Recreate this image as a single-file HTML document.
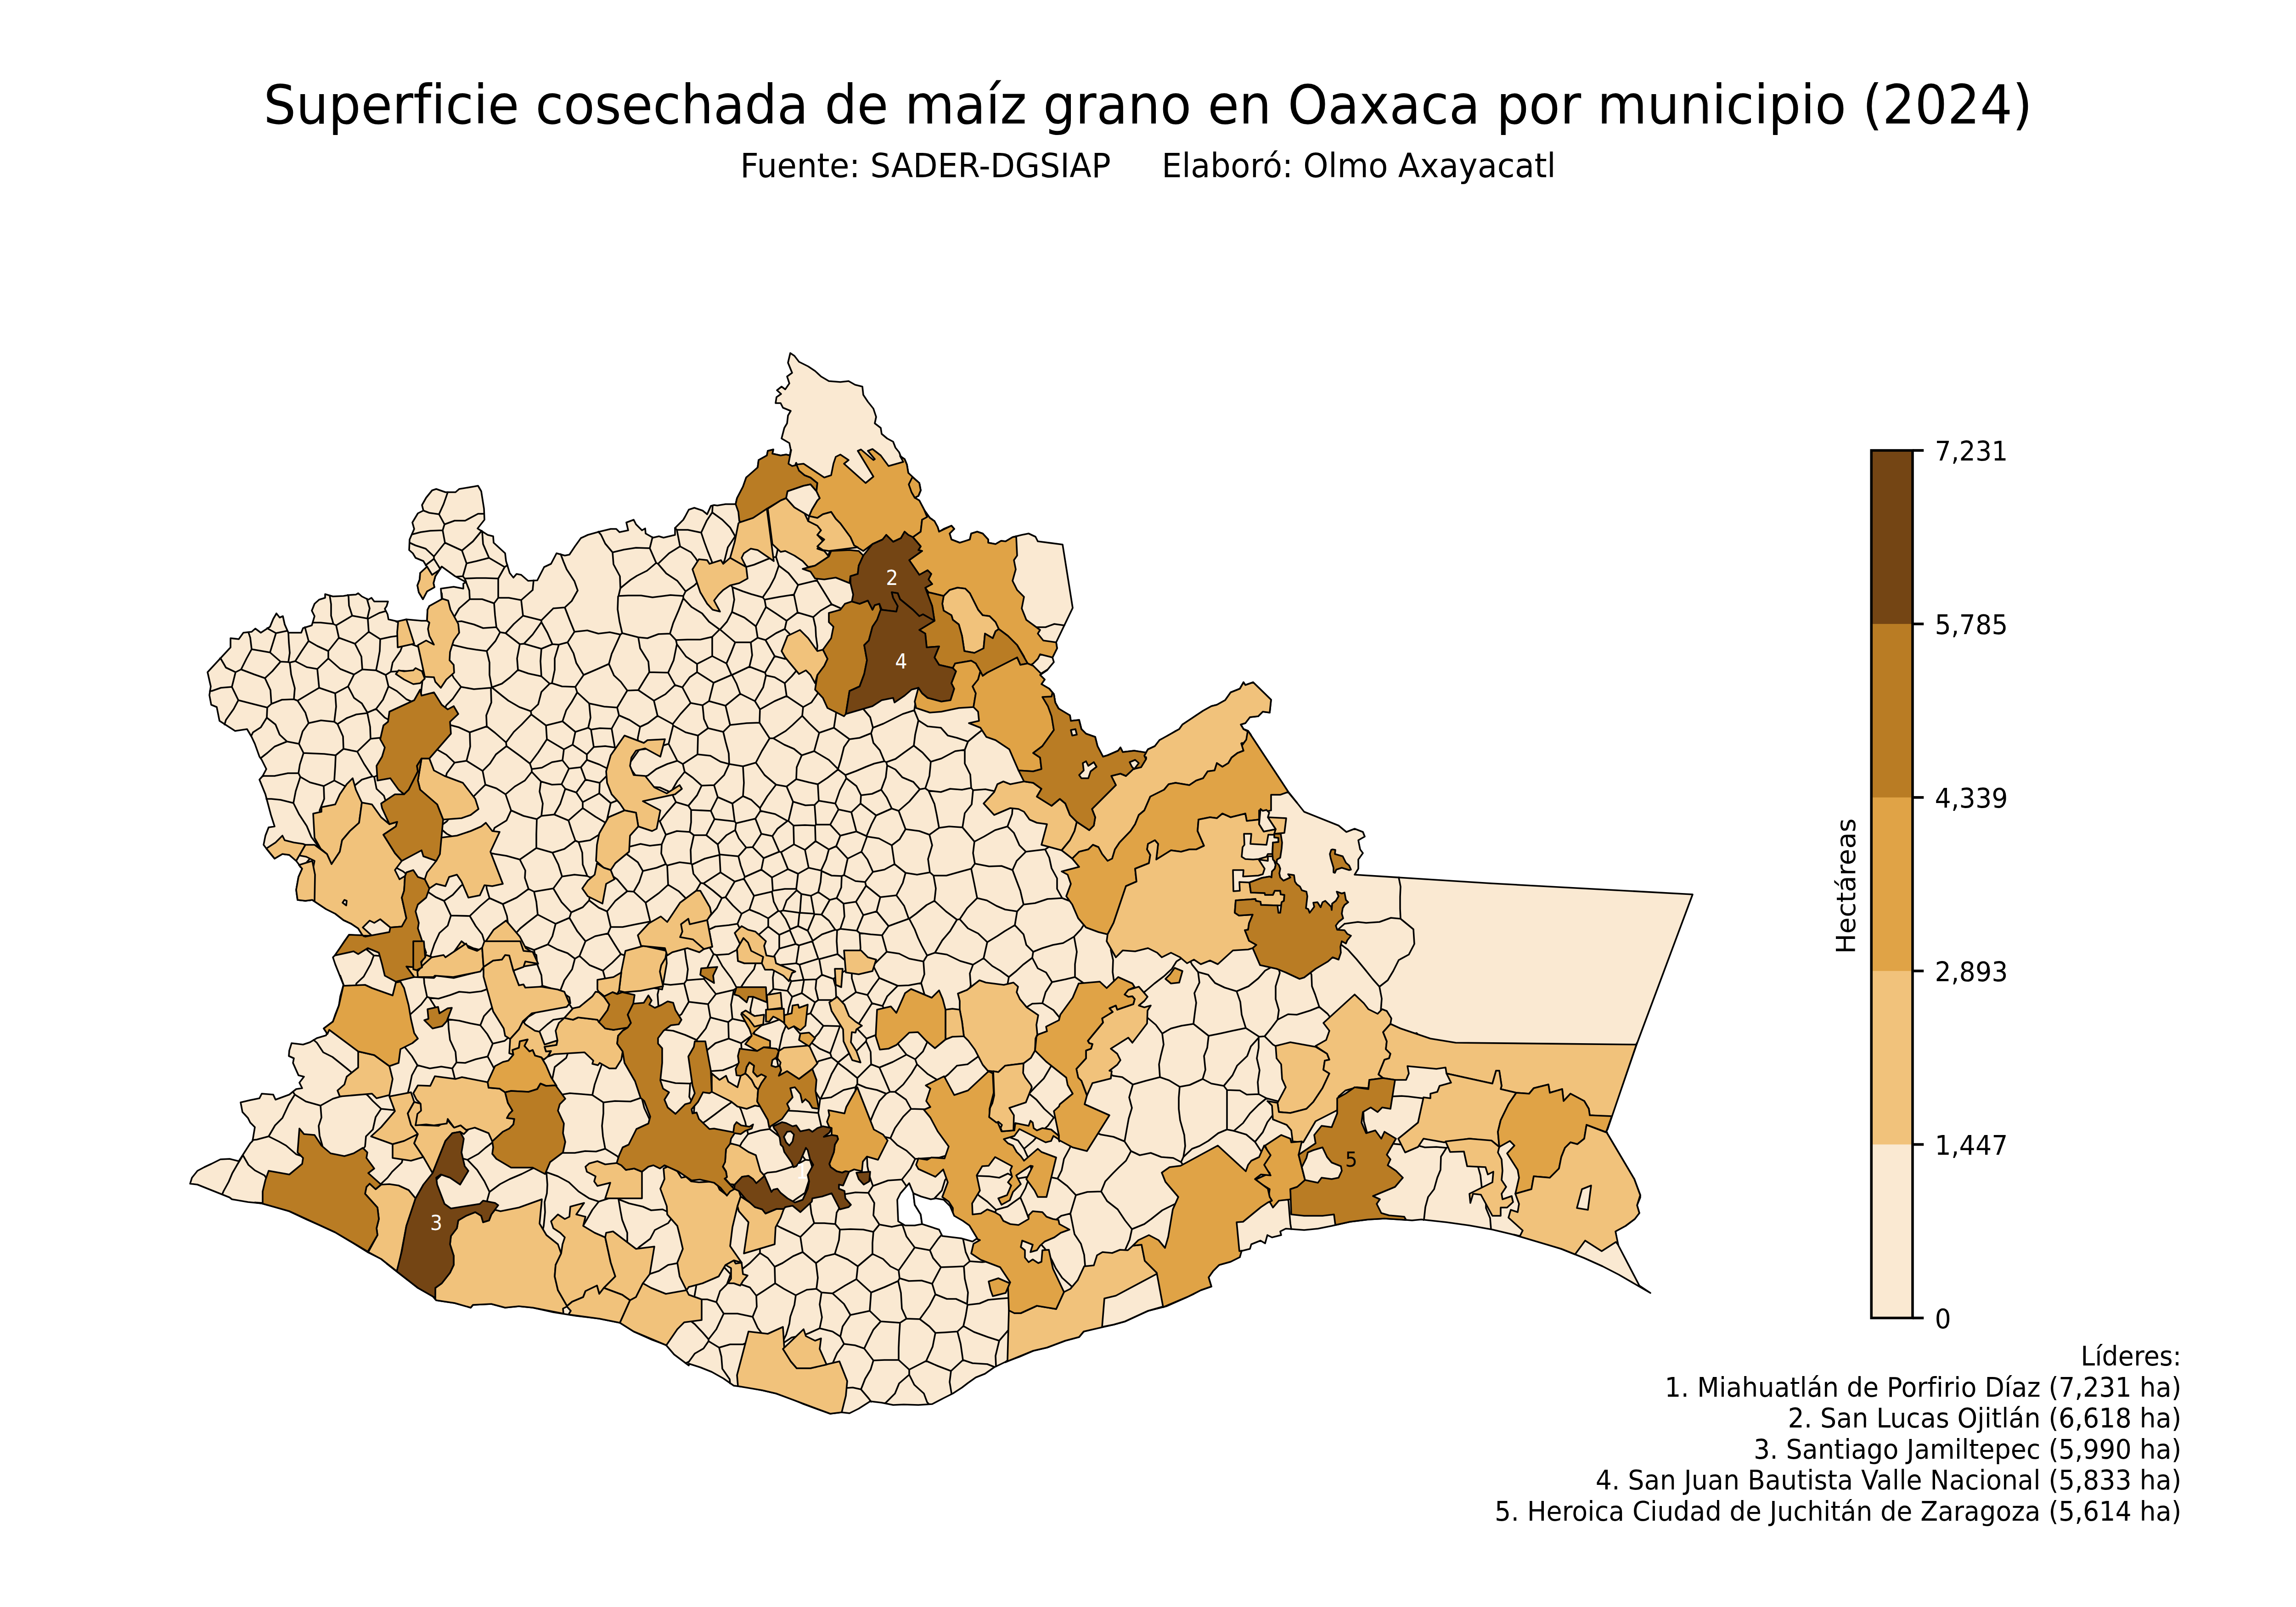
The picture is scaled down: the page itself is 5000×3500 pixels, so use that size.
<!DOCTYPE html>
<html lang="es"><head><meta charset="utf-8"><title>Superficie cosechada de maíz grano en Oaxaca por municipio (2024)</title>
<style>
html,body{margin:0;padding:0;background:#fff;}
body{width:5000px;height:3500px;overflow:hidden;}
svg{display:block;}
text{font-family:"DejaVu Sans","Liberation Sans",sans-serif;white-space:pre;}
.m{stroke:#000;stroke-width:3.5;stroke-linejoin:round;}
</style></head><body>
<svg width="5000" height="3500" viewBox="0 0 5000 3500">
<rect width="5000" height="3500" fill="#fff"/>
<g id="map" class="m">
<path d="M460,1535L456,1514L459,1495L452,1464L502,1410L502,1390L520,1392L530,1378L548,1376L556,1369L568,1378L588,1365L595,1348L602,1336L609,1345L616,1342L620,1360L628,1378L656,1378L660,1368L679,1362L685,1342L679,1330L685,1315L695,1306L708,1302L708,1294L725,1299L748,1298L760,1296L775,1295L780,1292L788,1299L802,1306L809,1302L815,1310L845,1310L842,1320L838,1326L844,1338L846,1349L868,1354L885,1349L918,1352L930,1352L931,1328L935,1320L962,1305L960,1282L988,1278L1009,1282L1009,1271L1015,1268L991,1255L962,1234L948,1255L944,1270L946,1279L930,1288L921,1305L912,1290L909,1275L914,1262L915,1248L930,1235L922,1222L905,1215L899,1205L891,1198L892,1175L902,1152L898,1138L910,1118L922,1112L919,1100L928,1084L941,1068L950,1065L970,1072L992,1072L1000,1065L1030,1060L1041,1058L1048,1070L1054,1108L1055,1132L1040,1151L1062,1165L1074,1168L1075,1182L1100,1205L1102,1222L1110,1248L1118,1258L1125,1250L1135,1252L1150,1265L1170,1264L1185,1235L1200,1228L1212,1205L1230,1210L1240,1208L1252,1190L1265,1172L1280,1165L1305,1158L1330,1152L1342,1152L1349,1159L1368,1155L1364,1138L1380,1132L1385,1142L1398,1155L1405,1151L1406,1162L1422,1171L1435,1168L1445,1171L1470,1165L1470,1150L1488,1132L1492,1125L1500,1110L1512,1106L1530,1112L1540,1120L1548,1102L1555,1100L1562,1101L1580,1098L1602,1098L1605,1085L1618,1060L1625,1040L1638,1030L1650,1018L1652,1002L1670,992L1672,982L1684,979L1682,988L1700,992L1712,990L1720,992L1722,980L1719,965L1702,955L1708,932L1714,922L1716,905L1722,895L1705,888L1700,878L1689,878L1691,865L1701,858L1692,850L1702,842L1710,848L1719,835L1714,820L1725,812L1716,790L1721,769L1730,775L1740,788L1760,798L1775,808L1788,820L1805,830L1830,832L1848,830L1862,838L1878,842L1880,860L1890,875L1902,890L1908,908L1905,922L1918,932L1920,945L1932,955L1945,962L1950,975L1958,985L1962,995L1970,1000L1975,1012L1978,1030L1988,1040L2002,1052L2005,1068L2000,1080L1992,1084L2002,1090L2010,1105L2015,1115L2025,1128L2035,1135L2042,1148L2045,1158L2055,1152L2072,1145L2078,1152L2068,1162L2072,1175L2090,1182L2100,1180L2112,1175L2115,1162L2128,1158L2140,1162L2152,1175L2152,1182L2168,1185L2180,1178L2190,1179L2205,1170L2225,1165L2240,1162L2255,1169L2260,1179L2314,1186L2336,1324L2300,1399L2302,1412L2292,1432L2295,1442L2280,1460L2265,1470L2275,1480L2268,1490L2285,1500L2295,1512L2298,1530L2305,1543L2315,1550L2330,1558L2332,1570L2350,1568L2355,1588L2365,1598L2385,1605L2390,1625L2402,1648L2412,1645L2435,1635L2440,1628L2445,1638L2470,1635L2495,1640L2500,1632L2515,1625L2525,1612L2540,1605L2560,1592L2568,1588L2575,1578L2595,1565L2605,1558L2620,1548L2638,1538L2650,1535L2668,1525L2680,1508L2700,1500L2708,1486L2712,1492L2729,1486L2768,1524L2765,1552L2750,1550L2740,1560L2722,1562L2712,1575L2702,1578L2708,1588L2718,1592L2805,1724L2840,1768L2915,1798L2932,1812L2950,1805L2968,1812L2972,1822L2958,1830L2962,1850L2968,1858L2958,1872L2958,1892L2950,1905L3248,1924L3686,1948L3564,2275L3498,2465L3559,2568L3572,2603L3572,2608L3565,2625L3570,2642L3560,2655L3540,2670L3518,2682L3522,2708L3570,2800L3594,2816L3568,2801L3525,2776L3490,2758L3450,2740L3400,2720L3350,2704L3300,2690L3250,2678L3200,2669L3150,2662L3095,2656L3075,2658L3050,2656L3015,2654L2980,2656L2940,2661L2900,2670L2870,2676L2840,2679L2800,2676L2788,2682L2790,2690L2770,2695L2760,2690L2755,2708L2745,2702L2725,2710L2722,2720L2702,2725L2700,2738L2680,2748L2655,2755L2642,2768L2632,2782L2638,2802L2615,2810L2600,2818L2585,2825L2540,2845L2500,2855L2475,2865L2450,2878L2425,2885L2400,2890L2360,2900L2350,2912L2320,2920L2280,2935L2250,2942L2220,2955L2192,2965L2165,2978L2145,2992L2125,3000L2108,3012L2095,3022L2075,3035L2055,3045L2030,3058L2000,3060L1968,3059L1945,3060L1920,3055L1895,3052L1870,3068L1850,3078L1832,3076L1808,3079L1780,3069L1750,3058L1720,3045L1690,3035L1660,3028L1630,3022L1598,3018L1575,3002L1550,2988L1525,2978L1500,2970L1500,2974L1468,2950L1450,2929L1420,2918L1380,2900L1350,2881L1305,2872L1255,2866L1205,2858L1160,2848L1130,2845L1100,2848L1070,2840L1030,2842L1025,2848L990,2838L950,2832L945,2825L910,2805L865,2770L830,2742L802,2728L770,2708L730,2684L700,2670L668,2656L630,2638L600,2629L570,2621L540,2618L505,2612L500,2608L460,2592L430,2580L414,2578L418,2565L430,2550L445,2542L460,2535L480,2525L500,2524L520,2529L545,2490L550,2485L555,2455L545,2445L540,2435L528,2422L524,2401L545,2396L565,2392L570,2382L595,2384L600,2395L630,2384L645,2372L658,2370L652,2358L662,2345L650,2342L638,2315L640,2305L629,2300L630,2288L635,2272L660,2275L675,2270L690,2261L710,2255L712,2250L705,2240L725,2225L730,2210L738,2190L741,2170L748,2145L740,2125L730,2100L725,2085L732,2078L750,2050L760,2036L790,2038L780,2022L765,2012L748,2004L730,1990L710,1980L695,1970L680,1960L665,1962L648,1960L645,1938L650,1910L658,1892L645,1875L630,1862L615,1860L598,1870L588,1858L580,1848L574,1840L578,1820L585,1802L598,1800L590,1775L578,1730L565,1698L572,1690L580,1675L570,1655L565,1648L555,1620L548,1605L538,1588L512,1592L478,1570L472,1540Z" fill="#FAE9D2" stroke-width="3.6"/>
<path d="M479,1434L481,1435L492,1454L513,1464M548,1414L545,1389L541,1377M548,1414L537,1434L525,1458M513,1464L525,1458M457,1505L461,1505L481,1498L505,1496M513,1464L505,1496M489,1578L492,1568L509,1544L519,1525M505,1496L519,1525M484,2601L487,2594L498,2574L506,2555L517,2536L529,2516M650,2647L649,2646L647,2645M580,2566L576,2560L555,2549L541,2537L529,2516M654,1888L662,1885L674,1871L677,1869M706,1857L710,1857M519,1525L554,1534L582,1541M581,1563L582,1541M581,1563L568,1584L551,1595L547,1603M525,1458L554,1469L577,1477M582,1541L591,1533M591,1533L589,1503L577,1477M815,1692L823,1688M815,1692L820,1718L836,1733L840,1745M815,1692L811,1691M811,1691L788,1698L771,1712M572,1691L574,1690L598,1690L627,1684L650,1684M568,1651L582,1640L598,1626L625,1615M650,1684L653,1665L661,1640M661,1640L651,1620M625,1615L651,1620M581,1563L600,1578L609,1600L625,1615M705,1712L706,1740L696,1765L697,1769M694,1839L693,1843M705,1712L675,1704L654,1692M654,1692L644,1723L639,1749M693,1843L678,1823L668,1799L651,1773L639,1749M695,1848L693,1843M753,1713L728,1700M728,1700L705,1712M728,1700L730,1669L731,1645M731,1645L706,1642L682,1641L661,1640M650,1684L654,1692M580,1740L591,1740L611,1742L639,1749M651,1620L659,1593L672,1575M591,1533L614,1524L640,1523M640,1523L648,1526M648,1526L665,1552L672,1575M2270,1487L2264,1486M2318,1362L2317,1362L2296,1359L2277,1366L2255,1366M1016,1657L990,1661M1016,1657L1051,1679M990,1661L973,1684L971,1692M962,1797L973,1789L977,1784M1030,1736L1042,1724L1057,1709M1051,1679L1057,1709M803,1376L801,1348M773,1402L738,1389M773,1402L803,1376M767,1341L800,1347M767,1341L732,1362M732,1362L738,1389M657,2518L645,2514L623,2495L607,2486L585,2475M702,2498L702,2495L696,2474L694,2452L700,2434L698,2408M585,2475L599,2451L615,2435L629,2405L642,2384M698,2408L666,2399L642,2384M550,2483L559,2482L585,2475M638,2378L642,2384M811,1691L793,1664L778,1637M731,1645L748,1631M778,1637L748,1631M672,1575L699,1569L728,1572M728,1572L735,1577M748,1631L747,1604L735,1577M648,1526L673,1511L695,1498M728,1572L732,1539L730,1510M730,1510L695,1498M1182,2679L1184,2670L1187,2640L1186,2618L1191,2599L1192,2580L1190,2553M1221,2730L1224,2728M1269,2671L1278,2656L1290,2635L1304,2617M1304,2617L1283,2610L1260,2595L1239,2575L1215,2562L1190,2553M2302,1537L2300,1540L2299,1541M2693,2159L2667,2151L2646,2141L2631,2123L2609,2117M2693,2159L2719,2148L2740,2131L2755,2114L2768,2107M2609,2117L2596,2101L2592,2093M2928,2012L2957,2008L2975,2010L3004,2008L3029,1999L3050,2001M3050,2001L3049,1979L3049,1953L3050,1931L3046,1911M2912,2026L2928,2012M3078,2024L3050,2001M3150,2500L3138,2519L3137,2548L3130,2565L3123,2590L3110,2607L3104,2629L3101,2656L3100,2657M3150,2500L3154,2498M3218,2540L3219,2542L3224,2560L3227,2588M3236,2620L3236,2631L3245,2653L3247,2677M3032,2491L3054,2493M3088,2495L3103,2499L3128,2498L3150,2500M3349,2689L3347,2690L3335,2700M2733,2487L2750,2466L2760,2444L2773,2427M2733,2487L2746,2507L2748,2510M2822,2485L2821,2488M2812,2677L2810,2665L2808,2642L2806,2616L2804,2612M1221,1207L1227,1223L1234,1240L1251,1266L1258,1286M1162,1264L1160,1285M1258,1286L1245,1309L1230,1323M1230,1323L1205,1325M1334,1203L1336,1229L1350,1255L1351,1281M1303,1158L1309,1165L1318,1184L1334,1203M1347,1298L1351,1281M1488,1303L1478,1329L1466,1357L1459,1380M1459,1380L1434,1381L1410,1390L1390,1388M1346,1299L1345,1327L1349,1353L1355,1379M1347,1298L1368,1297L1396,1297L1421,1301L1445,1298L1460,1296L1488,1298M1488,1303L1488,1298M1355,1379L1390,1388M732,1362L726,1359M767,1341L760,1319L759,1299L757,1296M726,1359L721,1341L721,1316L718,1297M726,1359L698,1356L681,1356M807,1609L806,1583L800,1553M807,1609L827,1607L829,1608M847,1568L838,1563L819,1544M819,1544L800,1552M778,1637L807,1609M735,1577L755,1564L776,1556L800,1553M990,1661L972,1644L951,1632M730,1510L758,1495M758,1495L771,1520L788,1532L800,1552M715,1418L691,1407L672,1396M715,1418L715,1434M715,1434L691,1457M691,1457L668,1453L643,1440M643,1440L657,1418L672,1396M664,1366L672,1396M738,1389L715,1418M789,1458L787,1430L773,1402M789,1458L771,1469M771,1469L741,1457L715,1434M771,1469L758,1495M695,1498L691,1457M631,1443L643,1440M640,1523L642,1499L634,1469L631,1443M698,2408L725,2393L749,2386M683,2265L690,2271L704,2292L724,2302L744,2318L760,2331L767,2337M796,2066L814,2081M814,2081L828,2082M814,2081L807,2100L792,2127L776,2142L775,2147M2023,3058L2019,3054L2012,3035L1991,3016L1980,2994M1927,3056L1929,3055L1949,3035L1958,3013L1980,2994M2573,2087L2562,2094L2552,2110L2535,2126L2514,2142L2494,2159L2490,2162M2497,2215L2517,2232L2531,2251M2609,2117L2612,2140L2601,2163L2605,2184L2602,2206L2599,2230M2531,2251L2550,2240L2573,2234L2599,2230M2693,2159L2701,2182L2704,2210L2713,2239M2713,2239L2684,2245L2657,2251L2632,2256M2599,2230L2632,2256M2741,2260L2724,2279L2716,2300L2694,2321L2684,2342L2665,2365M2665,2365L2638,2360L2619,2350M2742,2258L2713,2239M2632,2256L2629,2282L2622,2300L2625,2330L2619,2350M2854,2118L2856,2123L2857,2148L2864,2166L2873,2193M2785,2111L2787,2119L2778,2148L2778,2176L2785,2200L2782,2221M2873,2193L2853,2201L2824,2210L2805,2209L2782,2221M2742,2258L2754,2257M2782,2221L2767,2241L2754,2257M2779,2279L2772,2275L2754,2257M2873,2193L2891,2208L2897,2216M2978,2468L2977,2467L2970,2442L2969,2420M3100,2393L3098,2392L3066,2388L3052,2387L3031,2388M2954,2369L2953,2367M3004,2149L3009,2175L3007,2201L3007,2201M3004,2149L3022,2135L3034,2115L3046,2091L3068,2079L3080,2056M3080,2251L3085,2250M2919,2057L2920,2057L2935,2068L2954,2089L2973,2112L2989,2132L3004,2149M3078,2024L3080,2056M3090,2255L3085,2250M1390,1388L1394,1412L1412,1441L1414,1464M1459,1380L1472,1394M1455,1465L1414,1464M1455,1465L1467,1438L1474,1403M1474,1403L1472,1394M1696,1232L1687,1258L1676,1279L1661,1301M1696,1232L1717,1248L1738,1274M1729,1295L1738,1274M1729,1295L1697,1300L1665,1306M1665,1306L1661,1301M1624,1235L1642,1230L1671,1218L1677,1216M1683,1214L1690,1213M1591,1274L1595,1279M1690,1213L1696,1232M1595,1279L1618,1288L1636,1294L1661,1301M1694,1195L1690,1213M1779,1264L1780,1260M1803,1211L1808,1199L1808,1199M1779,1264L1738,1274M1771,1344L1737,1334M1737,1334L1729,1295M1811,1316L1795,1290L1779,1264M1811,1316L1787,1330L1771,1344M800,1347L805,1325L799,1304M892,1182L905,1188L927,1195L945,1212M964,1155L937,1156L916,1159L897,1164M964,1155L969,1182M969,1182L945,1212M1271,1470L1255,1444L1249,1423L1236,1399M1271,1470L1299,1458L1326,1446M1326,1446L1332,1424L1343,1400L1351,1382M1351,1382L1328,1377L1303,1380L1279,1373L1251,1376M1251,1376L1236,1399M1414,1464L1404,1480L1390,1503M1366,1504L1390,1503M1366,1504L1352,1485L1337,1471L1326,1446M1355,1379L1351,1382M1230,1323L1240,1349L1251,1376M1341,1631L1339,1628M1332,1587L1339,1628M1348,1558L1371,1568L1394,1583M1332,1587L1348,1558M1372,1661L1392,1633M1389,1614L1389,1607L1394,1583M1455,1465L1470,1492M1390,1503L1424,1526M1470,1492L1449,1512L1424,1526M1344,1541L1366,1504M1344,1541L1348,1558M1394,1583L1411,1575L1432,1559M1424,1526L1432,1559M1101,1730L1121,1713L1143,1700L1158,1681M1101,1730L1113,1765M1179,1777L1169,1784M1179,1777L1182,1750L1175,1724L1178,1702M1178,1702L1158,1681M1113,1765L1140,1777L1169,1784M961,1806L973,1816L985,1822M1057,1709L1081,1717L1101,1730M1113,1765L1103,1787L1077,1803L1074,1811M1016,1657L1024,1626L1023,1595M980,1579L999,1584L1023,1595M956,1120L968,1142M956,1120L966,1098L973,1078L975,1072M968,1142L990,1134L1013,1134L1041,1119L1054,1119M964,1155L968,1142M922,1112L935,1117L956,1120M611,1441L628,1442M611,1441L588,1421M628,1442L631,1422L629,1399L628,1378M588,1421L601,1379M601,1379L625,1374M577,1477L593,1462L611,1441M631,1443L628,1442M548,1414L588,1421M582,1368L583,1369L601,1379M984,1404L992,1406L1018,1412L1037,1415L1060,1418M1004,1496L1032,1501L1069,1498M1004,1496L988,1476L984,1468M1060,1418L1066,1443L1066,1470L1071,1497M1069,1498L1071,1497M969,1542L972,1536L986,1522L1004,1496M1023,1595L1060,1582M1060,1582L1059,1558L1070,1530L1069,1498M916,1512L917,1508L920,1482M922,1476L925,1469M819,1544L834,1524L846,1495M897,1528L885,1523L864,1505L846,1495M819,1460L823,1440L827,1418L828,1392M819,1460L840,1470M840,1470L851,1463M851,1463L855,1443L872,1418L876,1407M828,1392L851,1387L866,1385M803,1376L828,1392M789,1458L819,1460M846,1495L840,1470M923,1461L916,1462M890,1462L878,1461L870,1462M868,1462L851,1463M912,1409L904,1406L896,1403M801,1348L826,1335L840,1331M881,1350L881,1353M796,2383L800,2385L812,2398L830,2415M791,2502L795,2497L797,2475L812,2460L818,2433L830,2415M909,2320L936,2327L961,2323L985,2327M909,2320L897,2342L892,2366L888,2381M985,2327L991,2351M952,2449L948,2453M916,2449L919,2452M830,2415L860,2418M881,2280L881,2280L897,2300L909,2320M828,2580L844,2565L854,2552L875,2532L877,2524M950,2570L960,2560L961,2557M1453,2639L1443,2634L1418,2636L1400,2628L1370,2621L1347,2612M1345,2609L1347,2612M1387,2721L1392,2716L1416,2698L1426,2679L1455,2664L1462,2654M1414,2775L1435,2768L1455,2755L1476,2751M1366,2706L1366,2685L1355,2657L1351,2636L1347,2612M1314,2401L1339,2398L1373,2399L1396,2391M1398,2393L1403,2413L1415,2439M1318,2502L1313,2475L1311,2452L1314,2425L1314,2401M1318,2502L1344,2518L1347,2522M1304,2617L1329,2609M1754,2526L1747,2517M1699,2477L1697,2475L1676,2459M1754,2526L1736,2536M1728,2540L1710,2546L1690,2552L1671,2554L1662,2559M1601,2580L1593,2585M1574,2592L1568,2592M1576,2545L1577,2543M1611,2497L1615,2489L1629,2470M1629,2470L1656,2462L1676,2459M2222,2608L2231,2629L2241,2656M2222,2608L2233,2588L2239,2571M2288,2564L2303,2567M2299,2657L2311,2648L2331,2643M2303,2567L2324,2583L2343,2603M2331,2643L2343,2603M2363,2759L2363,2756L2361,2733L2354,2709L2340,2688L2336,2668L2331,2643M2335,2804L2333,2801L2313,2783L2299,2762L2291,2745L2286,2736M2278,2723L2275,2719L2267,2710M2758,2392L2741,2406L2722,2425L2707,2446L2687,2463M2758,2392L2741,2383M2741,2383L2715,2384L2700,2375L2672,2374M2672,2374L2672,2398L2672,2428L2672,2460M2672,2460L2687,2463M2733,2487L2714,2471L2687,2463M2785,2399L2758,2392M2741,2260L2741,2282L2737,2305L2743,2331L2739,2357L2741,2383M2665,2365L2672,2374M1764,2527L1754,2526M1764,2527L1769,2543M1608,2631L1604,2629M1762,2569L1761,2573L1753,2598M1707,2631L1713,2628L1713,2627M1726,2617L1734,2611L1753,2598M2197,2896L2195,2898L2176,2920M2169,2976L2168,2953L2176,2920M1667,1394L1650,1389M1667,1394L1690,1379L1709,1370M1650,1389L1646,1364M1646,1364L1656,1345L1668,1322M1668,1322L1691,1337L1713,1352M1713,1352L1709,1370M1594,1333L1621,1345L1646,1364M1594,1333L1599,1306L1595,1279M1665,1306L1668,1322M1737,1334L1713,1352M1486,1497L1470,1492M1474,1403L1494,1430L1518,1446M1486,1497L1502,1475L1518,1464M1518,1464L1518,1446M959,1239L958,1238L945,1217M945,1217L927,1231M945,1212L945,1217M1060,1418L1079,1396L1089,1377M995,1354L1005,1353L1032,1360L1052,1368L1081,1366M1089,1377L1081,1366M1023,1305L1050,1305L1076,1314M1023,1305L1022,1286L1015,1268M1015,1267L1012,1260M1012,1260L1038,1259L1058,1259L1085,1260M1085,1260L1085,1302M1085,1302L1076,1314M989,1344L1000,1325L1023,1305M1081,1366L1078,1340L1076,1314M1008,1255L1012,1260M1008,1255L994,1256M1160,1285L1135,1307M1135,1307L1108,1302L1085,1302M1105,1231L1099,1235M1099,1235L1085,1260M1006,1199L1016,1227M1006,1199L1030,1179L1049,1156M1016,1227L1038,1222L1065,1215M1050,1157L1052,1185L1065,1215M969,1182L1006,1199M1008,1255L1016,1227M1099,1235L1065,1215M1676,1127L1672,1128M1604,1167L1601,1168M1574,1228L1578,1220L1585,1192L1601,1168M1552,1101L1551,1116M1551,1116L1573,1132L1590,1149L1601,1168M1351,1281L1373,1263L1387,1254L1409,1243L1429,1226M1488,1298L1493,1288M1493,1288L1475,1265L1451,1249L1433,1228M1429,1226L1433,1228M1334,1203L1359,1197L1385,1193L1415,1194M1429,1226L1415,1194M1415,1194L1421,1170M1051,1679L1067,1663L1080,1643L1103,1625M1060,1582L1078,1596L1102,1617M1103,1625L1102,1617M1374,1675L1384,1689M1405,1691L1411,1689L1429,1675L1453,1664L1475,1657M1392,1633L1409,1631M1443,1624L1456,1620M1456,1620L1475,1657M1275,1698L1255,1726M1275,1698L1265,1671M1265,1671L1239,1674M1239,1674L1223,1708M1255,1726L1231,1718M1223,1708L1231,1718M1322,1689L1306,1705M1323,1674L1305,1665L1278,1655M1306,1705L1275,1698M1278,1655L1265,1671M1178,1702L1202,1709L1223,1708M1179,1777L1207,1774M1207,1774L1220,1751L1231,1718M1305,1728L1269,1747M1305,1728L1330,1749M1319,1792L1297,1779L1269,1760M1321,1789L1330,1749M1269,1760L1269,1747M1255,1726L1269,1747M1306,1705L1305,1728M1207,1774L1238,1787M1238,1787L1269,1760M1066,2596L1055,2573L1039,2548L1018,2526M1066,2596L1089,2579L1110,2568L1136,2557L1160,2545L1163,2544M1018,2526L1042,2513L1057,2500L1074,2487M1061,2618L1061,2614L1066,2596M1007,2523L1018,2526M1190,2553L1189,2551M1318,2502L1298,2508L1274,2507L1252,2511L1231,2511L1222,2511M1314,2401L1290,2385M1223,2384L1241,2381L1267,2383L1290,2385M1066,1956L1060,1936L1059,1927M1066,1956L1095,1969M1095,1969L1125,1955L1151,1936M1151,1936L1143,1912L1144,1896L1132,1872M1132,1872L1103,1864L1078,1860L1068,1858M967,1962L982,1994M967,1962L986,1949L1004,1929L1009,1926M1023,1995L982,1994M1023,1995L1046,1973L1066,1956M1169,1784L1168,1817L1168,1847M1168,1847L1132,1872M863,1890L878,1898L885,1904M931,1942L949,1954L967,1962M1124,2032L1133,2022L1149,2009L1171,1992M1106,2010L1104,1995L1095,1969M1151,1936L1163,1942M1171,1992L1168,1964L1163,1942M1171,1992L1210,2012M1210,2012L1203,2039L1193,2057M1142,2061L1163,2069M1193,2057L1163,2069M935,2173L955,2175L981,2167L1000,2160L1023,2162L1048,2159L1062,2154M935,2173L930,2171M930,2171L924,2142L923,2128M892,2210L895,2208L917,2188L930,2171M1181,2147L1179,2124L1169,2098M1165,2079L1163,2069M1173,2151L1181,2147M982,1994L975,2016L957,2032L946,2056L938,2080L937,2084M1023,1995L1036,2017L1050,2035L1055,2051L1055,2052M994,2314L1013,2315L1036,2307L1062,2301M994,2314L992,2291L980,2265L977,2240L976,2220M976,2220L1000,2223L1025,2229L1046,2233M1046,2233L1061,2252L1073,2273M1062,2301L1073,2273M1076,2328L1076,2327L1062,2301M985,2327L994,2314M935,2173L949,2195M956,2203L960,2207M974,2218L976,2220M1073,2194L1069,2197L1054,2213L1046,2233M1108,2259L1099,2267L1073,2273M1290,2385L1295,2362L1303,2339L1311,2317M1687,2759L1672,2740L1655,2729M1655,2729L1633,2751L1615,2765M1688,2795L1664,2811L1647,2822M1688,2795L1687,2759M1613,2797L1633,2804L1647,2822M1655,2719L1655,2729M1576,2759L1591,2775M2672,2460L2653,2468L2631,2485L2612,2496L2596,2502L2577,2520M2619,2350L2591,2363L2569,2367M2577,2520L2581,2496L2579,2472L2570,2440L2567,2415L2567,2391L2569,2367M2531,2251L2534,2275L2528,2299L2524,2318L2526,2346M2569,2367L2546,2353L2526,2346M2465,2677L2450,2658L2434,2634L2411,2616L2398,2595M2465,2677L2492,2666L2507,2655L2531,2636L2555,2624L2561,2621M2398,2595L2407,2573L2424,2555L2437,2542L2452,2528L2463,2507M2463,2507L2482,2516L2506,2511L2529,2520L2555,2522L2572,2531M2576,2537L2572,2531M2450,2724L2450,2723L2460,2700L2465,2677M2343,2603L2368,2596L2398,2595M2577,2520L2572,2531M2390,2468L2397,2471L2425,2476L2449,2486M2449,2486L2454,2458L2458,2436L2465,2413L2459,2390L2467,2362M2419,2340L2424,2343L2444,2346L2467,2362M2463,2507L2449,2486M2303,2567L2312,2549L2317,2524L2330,2500L2331,2495M2230,2502L2250,2485L2257,2477M2274,2459L2282,2452L2295,2434M2295,2434L2299,2434M2246,2548L2244,2538M2239,2522L2230,2502M2241,2382L2257,2395L2274,2415L2295,2434M2290,2321L2289,2322L2273,2349L2255,2367L2241,2382M2526,2346L2495,2354L2467,2362M2276,1850L2234,1855M2234,1855L2220,1841L2208,1814L2194,1800M2285,1844L2276,1850M2205,1760L2204,1773L2194,1800M2222,2608L2194,2628L2169,2635M2169,2635L2167,2642M2201,2794L2200,2792L2199,2789M2197,2827L2196,2827L2172,2829L2152,2831L2133,2839L2107,2842M2148,2748L2139,2749L2112,2747M2106,2840L2108,2815L2101,2785L2099,2758M2099,2758L2112,2747M2098,2888L2121,2901L2151,2912L2176,2920M2098,2888L2103,2866L2107,2842M1897,3053L1892,3046L1875,3026M1875,3026L1884,3003L1896,2983L1902,2963M1980,2994L1980,2983M1980,2983L1957,2962M1902,2963L1926,2962L1957,2962M2037,2903L2031,2933L2017,2964M2037,2903L2057,2902L2085,2900M2085,2900L2092,2927L2097,2962M2017,2964L2042,2975L2071,2986M2071,2986L2097,2962M2098,2888L2085,2900M2165,2977L2150,2971L2118,2969L2097,2962M2072,3036L2072,3034L2068,3010L2071,2986M1980,2983L2017,2964M2115,1716L2095,1720L2069,1718L2049,1725L2022,1722M2022,1722L2015,1717M2015,1717L2024,1690L2027,1659M2115,1716L2113,1687L2101,1663L2101,1633M2027,1659L2050,1652L2080,1636L2101,1633M2139,1590L2126,1600L2108,1615M2167,1723L2165,1723L2146,1719L2119,1721M2115,1716L2119,1721M2108,1615L2101,1633M1771,1344L1776,1366L1777,1386L1780,1407L1779,1418M1709,1370L1722,1383M2027,1659L2009,1639L1990,1624M2108,1615L2084,1607L2064,1602L2049,1585L2020,1582L2000,1569M1990,1624L1993,1600L2000,1569M1330,1749L1345,1743M1582,1445L1551,1429M1582,1445L1592,1422L1601,1399M1551,1429L1551,1387M1601,1399L1568,1371M1551,1387L1567,1371M1472,1394L1497,1393L1525,1393L1551,1387M1518,1446L1551,1429M1635,1399L1650,1389M1635,1399L1601,1399M1594,1333L1583,1354L1568,1371M1488,1303L1506,1322L1529,1336L1544,1354L1567,1371M1518,1464L1554,1487M1582,1445L1593,1470M1554,1487L1593,1470M1632,1452L1638,1427L1635,1399M1632,1452L1594,1470M1101,1379L1119,1359L1139,1341M1101,1379L1132,1403M1132,1403L1141,1402M1141,1402L1160,1382L1179,1355M1139,1341L1179,1351M1179,1351L1179,1355M1089,1377L1101,1379M1135,1307L1139,1341M1128,1459L1111,1475L1093,1489L1071,1497M1128,1459L1126,1434L1132,1403M1179,1473L1177,1440L1179,1413M1179,1413L1141,1402M1128,1459L1151,1467L1179,1473M1179,1413L1203,1403M1203,1403L1192,1378L1179,1355M1205,1325L1179,1351M1236,1399L1217,1404M1217,1404L1203,1403M1520,1224L1515,1216L1505,1203L1481,1190M1552,1226L1551,1225L1541,1200L1534,1181L1527,1160M1527,1160L1498,1154L1474,1154M1474,1154L1481,1190M1493,1288L1512,1275L1518,1269M1433,1228L1457,1205L1481,1190M1551,1116L1539,1134L1527,1160M1470,1150L1474,1154M1158,1681L1158,1675M1239,1674L1225,1656M1158,1675L1180,1672L1202,1660L1225,1656M1103,1625L1132,1646L1154,1663M1158,1675L1154,1663M1071,1497L1093,1515L1107,1526L1131,1540L1156,1549M1102,1617L1119,1594L1136,1578L1157,1556M1156,1549L1157,1556M1179,1473L1197,1489M1156,1549L1172,1534L1179,1507L1197,1489M1271,1470L1253,1496M1217,1404L1208,1434L1208,1459L1202,1488M1253,1496L1224,1495L1202,1488M1197,1489L1202,1488M1339,1628L1318,1625L1293,1627M1278,1655L1278,1643M1293,1627L1278,1643M1332,1587L1306,1586L1287,1589M1293,1627L1287,1589M1486,1497L1504,1531M1432,1559L1465,1577M1465,1577L1482,1555L1504,1531M1456,1620L1466,1580M1465,1577L1466,1580M1459,1725L1437,1715L1423,1714M1475,1657L1487,1664M1463,1722L1475,1701L1491,1681M1491,1681L1487,1664M1224,1909L1251,1905L1279,1908M1224,1909L1216,1883L1203,1857M1279,1908L1269,1883L1268,1857L1260,1834M1203,1857L1229,1849L1253,1831M1253,1831L1260,1834M1205,1935L1163,1942M1168,1847L1203,1857M1205,1935L1224,1909M1238,1787L1245,1809L1253,1831M1306,1817L1285,1830L1260,1834M1210,2012L1240,1999M1205,1935L1223,1965L1244,1987M1240,1999L1244,1987M1490,2142L1500,2182M1490,2142L1460,2145L1443,2143M1435,2153L1432,2166L1434,2193M1500,2182L1484,2209L1478,2213M1517,2265L1537,2240L1547,2216M1542,2187L1547,2216M1542,2187L1500,2182M1517,2265L1492,2254L1466,2245L1447,2243M1173,2248L1174,2247L1192,2231L1205,2221L1231,2217M1201,2351L1203,2349L1208,2324L1233,2304L1237,2293M1181,2147L1205,2154M1248,2199L1239,2186M1193,2057L1214,2068L1236,2076L1252,2088M1220,2158L1229,2135L1246,2111L1252,2088M1240,1999L1257,2028L1275,2050M1275,2050L1262,2082M1262,2082L1252,2088M1843,3023L1857,3022L1875,3026M1493,2969L1500,2966L1513,2948L1532,2937L1543,2921M1590,3013L1589,3004L1573,2981L1571,2955L1566,2935M1543,2921L1566,2935M1566,2935L1590,2928L1618,2928L1625,2925M1647,2822L1648,2846L1639,2868M1733,2821L1730,2842L1721,2868L1719,2883L1712,2907L1706,2919M1733,2821L1707,2807L1688,2795M1639,2868L1650,2892L1659,2904M1495,2135L1533,2132M1495,2135L1490,2142M1542,2187L1559,2165M1559,2165L1533,2132M1508,2357L1503,2360M1547,2333L1552,2342M1503,2360L1501,2389L1506,2398M1511,2409L1512,2411L1511,2425M1530,2446L1538,2441L1557,2427L1574,2414L1594,2400M1438,2351L1445,2353L1471,2359L1503,2360M1517,2265L1520,2269M1629,2470L1627,2460M1625,2454L1623,2444L1614,2418L1610,2410M2230,2502L2217,2484L2199,2477M2183,2463L2176,2452L2175,2452M2062,2565L2058,2570L2051,2593L2033,2612M2169,2635L2150,2617L2132,2604L2128,2600M2239,2563L2215,2567M2204,2561L2195,2556L2176,2565L2154,2562L2129,2561L2126,2560M2112,2747L2103,2727L2097,2697M1632,1452L1666,1465M1667,1394L1687,1429M1687,1429L1666,1465M1687,1429L1709,1435L1714,1435M1991,1547L1966,1555L1944,1566L1924,1576L1901,1585M1991,1547L1994,1528M1994,1527L1994,1524L1995,1522M1901,1585L1895,1562L1879,1543M2000,1569L1991,1547M1811,1316L1831,1325L1833,1326M1821,1550L1820,1559L1816,1585M1897,1597L1901,1585M1897,1597L1872,1607L1850,1610M1850,1610L1816,1585M1783,1509L1781,1510L1767,1530L1749,1540M1749,1540L1747,1559M1747,1559L1763,1576L1784,1596M1816,1585L1784,1596M1154,1663L1172,1639L1191,1610M1225,1656L1228,1632M1191,1610L1228,1632M1157,1556L1189,1580M1191,1610L1189,1580M1278,1643L1247,1622M1228,1632L1247,1622M1554,1487L1544,1527M1612,1511L1604,1489L1594,1470M1612,1511L1580,1537M1580,1537L1544,1527M1504,1531L1530,1536M1544,1527L1530,1536M1366,1941L1344,1915L1334,1908M1366,1941L1340,1962L1322,1985M1283,1961L1304,1977L1322,1985M1283,1961L1284,1953M1286,1914L1285,1911M1285,1911L1291,1909M1324,2033L1330,2019M1330,2019L1322,1985M1244,1987L1269,1976L1283,1961M1275,2050L1296,2039L1324,2033M1279,1908L1285,1911M1352,2078L1361,2081M1352,2078L1333,2097L1313,2114M1313,2114L1318,2132M1355,2162L1357,2160L1357,2160M1416,2007L1385,2013L1356,2019L1330,2019M1419,2009L1416,2007M1324,2033L1338,2056L1352,2078M1434,2063L1432,2065M1262,2082L1284,2102L1313,2114M1495,2135L1498,2111L1494,2088L1491,2066M1543,2917L1560,2895L1576,2861M1543,2917L1530,2902L1513,2884L1504,2877M1524,2830L1540,2830L1560,2836M1560,2836L1576,2861M1639,2868L1606,2861L1576,2861M1543,2921L1543,2917M1516,2798L1516,2802L1512,2825M1591,2775L1583,2797L1568,2812L1560,2836M1975,2585L1964,2569M1964,2569L1983,2545L1993,2524M2060,2517L2046,2521L2023,2522L1993,2524M2131,2299L2129,2302L2107,2318L2084,2321L2065,2340L2056,2347M2157,2331L2158,2334L2158,2337M2161,2349L2164,2359M1993,2307L1974,2297M1993,2307L2010,2290L2020,2268M1974,2297L1958,2277L1955,2272M1925,2197L1922,2191M2006,2141L2013,2165L2015,2168M2006,2141L1979,2146L1955,2147M1955,2147L1932,2170L1922,2191M2420,2065L2419,2069L2424,2091L2423,2117L2426,2138M1997,2318L1993,2307M2041,2352L2020,2339L1997,2318M2256,2280L2253,2279M2112,2152L2114,2146L2112,2120L2119,2101M2036,2075L2062,2079L2091,2093L2119,2101M2036,2075L2019,2081M2006,2141L2013,2122L2011,2094M2011,2094L2019,2081M2106,2840L2082,2829L2062,2829L2037,2819M2037,2903L2024,2889L2003,2873M2037,2819L2024,2844L2003,2873M1618,1669L1620,1705L1618,1734M1618,1669L1646,1661M1646,1661L1665,1688L1690,1709M1690,1709L1671,1734L1655,1760M1655,1760L1636,1742L1618,1734M1644,1527L1655,1545M1644,1527L1662,1497L1668,1471M1655,1545L1687,1527L1713,1516M1668,1471L1687,1475L1709,1488M1709,1488L1713,1516M1580,1537L1590,1579M1654,1574L1626,1575L1590,1579M1654,1574L1655,1545M1612,1511L1644,1527M1666,1465L1668,1471M1654,1574L1676,1608M1676,1608L1684,1608M1684,1608L1711,1592L1726,1579L1747,1559M1749,1540L1713,1516M1735,1460L1724,1473L1709,1488M1528,1711L1518,1732L1499,1755M1491,1681L1509,1694L1528,1711M1464,1730L1472,1747M1472,1747L1499,1755M1533,2132L1534,2127M1540,2109L1541,2106L1554,2078M1545,2063L1554,2078M1955,2147L1915,2130M1922,2191L1899,2185M1899,2185L1889,2167M1915,2130L1901,2149L1889,2167M1915,2130L1902,2104M2011,2094L1980,2088L1958,2077L1931,2073M1904,2100L1931,2073M2019,2081L2007,2059L1999,2042L1992,2024L1980,2001M1935,2017L1921,2037M1935,2017L1954,2010L1979,2001M1931,2073L1921,2037M1800,2476L1798,2472M1789,2455L1782,2424M1676,2459L1678,2452M1782,2424L1760,2422L1737,2420L1716,2419L1715,2419M1547,2333L1574,2331L1595,2323L1609,2316M1539,2288L1558,2272L1587,2262M1547,2216L1586,2226M1587,2262L1586,2226M1615,2286L1614,2272M1587,2262L1614,2272M1225,1571L1253,1594M1225,1571L1233,1547L1245,1529L1257,1508M1283,1532L1257,1508M1283,1532L1286,1563L1281,1585M1281,1585L1253,1594M1247,1622L1253,1594M1189,1580L1225,1571M1253,1496L1257,1508M1344,1541L1316,1539L1283,1532M1287,1589L1281,1585M1575,1594L1542,1586M1575,1594L1580,1615L1587,1641L1588,1664M1588,1664L1569,1659L1547,1646L1519,1643M1519,1643L1520,1602M1520,1602L1542,1586M1590,1579L1575,1594M1530,1536L1533,1566L1542,1586M1676,1608L1659,1636L1646,1661M1588,1664L1618,1669M1487,1664L1519,1643M1555,1710L1528,1711M1588,1664L1577,1688L1555,1710M1466,1580L1493,1595L1520,1602M1939,2479L1949,2457L1967,2432L1984,2415M1939,2479L1926,2476M1895,2444L1895,2443L1904,2421L1915,2398L1930,2382M1984,2415L1973,2395L1949,2378M1949,2378L1938,2378M1930,2382L1938,2378M2016,2416L2016,2416L1984,2415M1993,2524L1974,2506L1954,2494L1939,2479M1901,2583L1893,2560M1892,2554L1889,2540L1888,2520L1888,2518M1901,2583L1934,2571L1964,2569M1997,2318L1985,2338L1967,2362L1949,2378M1915,2325L1944,2313L1974,2297M1915,2325L1926,2350L1938,2378M1980,2001L1995,1990L2018,1971L2035,1962M2036,2075L2052,2048L2069,2028L2084,2003M2035,1962L2060,1985L2084,2003M2341,2128L2361,2142M2341,2128L2320,2133L2291,2139M2308,2217L2294,2200L2270,2185M2270,2185L2277,2161L2291,2139M2270,2185L2248,2186L2235,2194M1813,2970L1813,2970L1823,2947L1838,2927M1902,2963L1882,2937M1882,2937L1862,2930L1838,2927M1706,2925L1724,2913L1734,2911M1753,2907L1763,2903L1785,2893M1785,2893L1813,2900L1830,2911M1838,2927L1830,2911M1901,2583L1891,2598M1839,2601L1863,2597L1891,2598M1852,2864L1835,2889L1830,2911M1785,2893L1790,2869L1785,2841L1789,2815M1852,2864L1838,2840L1813,2817M1813,2817L1789,2815M1733,2821L1757,2809L1778,2807M1778,2807L1789,2815M1967,2665L1965,2667M1891,2598L1904,2620L1902,2647L1915,2667M1965,2667L1942,2672L1915,2667M1618,1734L1595,1750M1555,1710L1563,1736M1595,1750L1563,1736M1499,1755L1505,1764M1505,1764L1548,1766M1563,1736L1548,1766M1560,2080L1554,2078M1560,2080L1587,2078L1606,2068M1543,2025L1558,2018L1587,2015L1606,2012M1611,2022L1606,2012M1572,1956L1561,1978L1548,1993L1543,1999M1580,1954L1572,1956M1580,1954L1596,1972L1615,1990M1606,2012L1615,1990M1600,1920L1620,1914M1580,1954L1600,1920M1620,1914L1642,1951M1642,1951L1632,1981M1615,1990L1632,1981M1876,1855L1888,1822M1876,1855L1846,1870M1846,1870L1821,1843M1865,1811L1887,1821M1865,1811L1830,1820M1830,1820L1821,1843M1788,1896L1799,1872L1805,1850M1833,1908L1838,1906M1838,1906L1846,1870M1789,1897L1811,1907L1833,1908M1805,1850L1821,1843M1957,1766L1942,1761M1972,1806L1957,1766M1942,1761L1908,1776M1972,1806L1959,1828L1942,1841M1942,1841L1914,1826L1888,1822M1908,1776L1898,1795L1887,1821M1901,1899L1926,1894L1948,1882M1901,1899L1884,1921M1884,1921L1886,1929M1886,1929L1917,1954M1917,1954L1952,1950M1952,1950L1966,1923L1972,1901M1972,1901L1948,1882M1942,1841L1948,1882M1876,1855L1889,1872L1901,1899M1838,1906L1863,1919L1884,1921M1822,1956L1837,1968M1864,1964L1837,1968M1833,1908L1832,1933L1822,1956M1864,1964L1886,1929M1880,1993L1864,1964M1909,1985L1880,1993M1909,1985L1917,1954M1979,2001L1969,1973L1952,1950M1935,2017L1909,1985M1734,1697L1762,1704L1781,1708M1734,1697L1735,1671L1746,1645M1746,1645L1773,1636M1773,1636L1805,1655L1825,1675M1781,1708L1802,1694L1825,1676M1727,1746L1754,1754L1774,1753M1713,1713L1727,1746M1783,1744L1774,1753M1783,1744L1781,1708M1713,1713L1734,1697M1690,1709L1713,1713M1684,1608L1708,1622L1729,1631L1746,1645M1784,1596L1773,1636M1850,1610L1838,1627L1831,1655L1825,1675M1897,1597L1902,1618L1916,1634L1926,1658M1825,1676L1841,1688M1841,1688L1865,1679L1886,1670L1904,1663L1926,1658M1942,1761L1931,1737L1919,1720M2003,1719L1989,1703L1965,1693L1950,1676L1932,1667M2003,1719L1980,1746L1957,1766M1919,1720L1929,1693L1932,1667M2015,1717L2003,1719M1990,1624L1969,1639L1950,1653L1930,1660M1932,1667L1930,1660M1926,1658L1930,1660M1567,1861L1608,1865M1622,1910L1613,1885L1608,1865M1600,1920L1569,1900M1620,1914L1622,1910M1569,1900L1567,1862M1572,1956L1553,1940L1532,1924M1569,1900L1532,1924M1622,1910L1658,1894M1608,1865L1625,1846M1625,1846L1639,1845M1639,1845L1663,1869M1663,1869L1658,1894M1716,1893L1701,1856M1716,1893L1681,1911M1681,1911L1658,1894M1663,1869L1697,1855M1697,1855L1701,1856M1695,2323L1692,2308M1692,2308L1698,2279L1704,2252L1712,2233M1744,2252L1741,2250L1728,2235M1782,2424L1786,2394M1775,2376L1786,2394M1614,2272L1638,2255M1687,2304L1692,2308M1773,2261L1783,2250L1793,2234M1765,2207L1755,2210M1793,2234L1765,2207M2025,1900L2033,1907M2025,1900L2021,1871L2030,1841L2024,1818M2033,1907L2061,1907L2093,1898L2115,1892M2096,1802L2122,1833M2096,1802L2067,1800L2045,1803M2122,1833L2119,1858L2123,1881M2045,1803L2024,1818M2123,1881L2115,1892M1972,1901L1997,1905L2025,1900M2035,1962L2038,1935L2033,1907M1972,1806L2002,1810L2024,1818M2128,1956L2106,1978L2090,2002M2128,1956L2122,1926L2115,1892M2084,2003L2090,2002M2194,1800L2167,1808L2143,1822L2122,1833M2119,1721L2116,1752L2101,1771L2096,1802M2022,1722L2035,1751L2040,1775L2045,1803M2205,1895L2181,1886L2154,1887L2123,1881M2234,1855L2214,1875L2205,1895M2194,2144L2197,2128M2291,2139L2278,2118L2260,2109L2248,2086M2248,2086L2228,2101L2213,2115L2197,2128M2119,2101L2142,2087M2197,2128L2178,2114L2161,2104L2142,2087M2090,2002L2108,2022L2130,2033L2150,2052M2142,2087L2150,2052M1852,2864L1894,2855M1882,2937L1892,2916L1902,2896L1918,2878M1894,2855L1918,2878M1957,2962L1957,2936L1958,2912L1960,2881M1918,2878L1960,2881M2003,2873L1974,2872M1960,2881L1974,2872M1818,2731L1797,2736L1777,2751M1818,2731L1827,2701L1829,2678M1773,2664L1743,2694M1773,2664L1795,2664L1819,2666M1743,2694L1748,2727M1819,2666L1829,2678M1748,2727L1777,2751M1690,2668L1699,2673L1720,2683L1743,2694M1753,2598L1755,2601M1764,2619L1767,2643L1773,2664M1828,2631L1822,2641L1819,2666M1687,2759L1704,2751L1727,2736L1748,2727M1915,2667L1902,2683M1902,2683L1880,2678L1852,2677L1829,2678M1778,2807L1781,2783L1777,2751M2099,2758L2077,2759L2049,2760M2051,2689L2043,2698L2025,2723M2049,2760L2032,2740L2025,2723M2037,2819L2030,2796M2049,2760L2030,2796M1965,2667L1974,2693L1992,2717M2025,2723L1992,2717M1556,1784L1600,1789M1556,1784L1538,1819M1563,1839L1538,1819M1563,1839L1582,1819L1601,1808M1601,1808L1603,1793M1603,1793L1600,1789M1595,1750L1600,1789M1548,1766L1556,1784M1505,1764L1505,1791L1502,1812M1502,1812L1511,1819M1511,1819L1538,1819M1625,1846L1609,1826L1601,1808M1567,1861L1563,1839M1642,1951L1681,1942M1681,1911L1683,1940M1683,1940L1681,1942M1738,1903L1716,1893M1738,1903L1734,1936M1683,1940L1709,1936L1734,1936M1789,1897L1787,1921L1782,1943M1822,1956L1807,1960M1782,1943L1807,1960M1652,2036L1673,2018M1632,1981L1654,1990L1673,2000M1673,2018L1673,2000M1681,1942L1685,1964L1695,1984M1673,2000L1695,1984M1874,1750L1854,1769M1874,1750L1875,1732M1875,1732L1865,1712L1843,1695M1843,1695L1829,1721L1819,1750M1854,1769L1826,1763M1819,1750L1826,1763M1865,1811L1854,1769M1908,1776L1874,1750M1919,1720L1899,1729L1875,1732M1841,1688L1843,1695M1783,1744L1819,1750M1808,1796L1830,1820M1808,1796L1826,1763M1777,1796L1808,1796M1774,1753L1777,1796M1532,1924L1526,1923M1515,1942L1526,1923M1567,1862L1535,1870L1507,1883M1526,1923L1510,1903L1507,1883M1511,1819L1504,1851L1505,1881M1507,1883L1505,1881M1472,1747L1452,1770L1437,1789M1502,1812L1474,1810L1450,1818M1437,1789L1450,1818M1437,1789L1432,1786M1715,1788L1693,1805L1682,1821M1715,1788L1688,1773L1656,1766M1682,1821L1658,1816M1658,1816L1645,1783M1656,1766L1645,1783M1655,1760L1656,1766M1727,1746L1717,1788M1717,1788L1715,1788M1697,1855L1682,1821M1639,1845L1658,1816M1603,1793L1645,1783M1728,1798L1729,1839M1728,1798L1753,1797L1775,1798M1776,1832L1775,1798M1776,1832L1753,1851M1753,1851L1729,1839M1717,1788L1728,1798M1701,1856L1729,1839M1777,1796L1775,1798M1805,1850L1776,1832M1761,1890L1753,1851M1788,1896L1761,1890M1761,1890L1738,1903M1864,2161L1833,2183M1864,2161L1855,2131L1855,2119M1821,2174L1820,2150L1815,2132M1815,2132L1820,2128M1833,2118L1834,2118L1843,2113M1787,2393L1798,2371L1811,2339L1825,2315M1787,2393L1810,2390L1837,2374L1863,2368M1825,2315L1845,2330L1867,2348M1867,2348L1867,2361M1867,2361L1863,2368M1863,2378L1863,2368M1897,2318L1867,2348M1915,2325L1897,2318M1930,2382L1910,2374L1886,2369L1867,2361M1825,2314L1811,2303M1825,2314L1847,2296L1850,2295M1864,2289L1866,2288L1886,2268M1808,2294L1818,2266L1829,2235M1808,2294L1811,2303M1831,2234L1829,2235M1866,2240L1887,2262M1887,2262L1886,2268M1770,2325L1783,2311L1811,2303M1897,2318L1896,2291L1886,2268M1793,2234L1829,2235M1767,2271L1785,2284L1808,2294M1889,2167L1864,2161M1899,2185L1881,2213L1870,2230M1908,2254L1887,2262M1642,2252L1643,2246M1656,2234L1677,2228L1699,2220M2250,2073L2235,2058L2229,2035L2210,2015M2250,2073L2270,2065L2293,2058L2315,2054L2339,2040M2313,1956L2281,1958L2254,1967L2229,1970M2313,1956L2331,1963M2210,2015L2215,1985M2361,2013L2354,2024L2339,2040M2229,1970L2215,1985M2248,2086L2250,2073M2150,2052L2173,2038L2188,2028L2210,2015M2341,2128L2341,2100L2345,2073L2339,2040M2276,1850L2285,1868L2290,1891L2302,1913L2302,1936L2313,1956M2205,1895L2214,1919L2222,1940L2229,1970M2128,1956L2149,1961L2170,1973L2189,1981L2215,1985M1957,2767L1959,2784M1957,2767L1939,2758L1923,2742L1900,2731M1897,2815L1927,2803L1956,2790M1897,2815L1865,2786M1956,2790L1959,2784M1900,2731L1868,2758M1865,2786L1868,2758M2030,2796L2007,2789L1979,2790L1959,2784M1992,2717L1976,2740L1957,2767M1902,2683L1900,2707L1900,2731M1894,2855L1897,2815M1974,2872L1964,2850L1962,2816L1956,2790M1813,2817L1840,2800L1865,2786M1818,2731L1846,2743L1868,2758M1734,1936L1735,1939M1735,1939L1745,1947M1782,1943L1766,1951M1745,1947L1766,1951M1494,1957L1478,1941L1455,1927M1505,1881L1480,1878L1453,1885M1453,1885L1455,1927M1416,2007L1406,1966M1455,1927L1435,1945L1406,1966M1366,1941L1380,1942M1406,1966L1380,1942M1824,2078L1841,2092M1824,2078L1822,2050L1823,2026M1873,2071L1874,2065L1872,2032M1830,2023L1823,2026M1830,2023L1866,2027M1866,2027L1872,2032M1790,2123L1784,2089M1790,2123L1815,2132M1784,2089L1824,2078M1921,2037L1896,2035L1872,2032M1837,1968L1839,1996L1830,2023M1880,1993L1866,2027M1790,2123L1778,2133M1815,2178L1782,2178M1778,2133L1776,2153L1782,2178M1765,2207L1775,2183M1782,2178L1775,2183M1586,2226L1595,2219M1595,2219L1624,2225M1559,2165L1598,2156M1595,2219L1592,2188L1598,2156M1560,2080L1573,2104L1593,2131L1604,2151M1604,2152L1598,2156M1735,1939L1713,1961L1705,1983M1695,1984L1699,1985M1705,1983L1699,1985M1823,2026L1819,2025M1807,1960L1789,1992M1789,1992L1805,2005L1819,2025M1441,1839L1415,1842L1395,1838L1371,1844L1370,1844M1441,1839L1440,1859L1450,1882M1450,1882L1430,1890L1400,1897M1363,1859L1389,1878L1400,1897M1450,1818L1441,1839M1453,1885L1450,1882M1380,1942L1392,1921L1400,1897M1750,2134L1723,2137M1751,2134L1746,2163M1723,2137L1715,2158M1746,2163L1725,2171M1715,2158L1725,2171M1696,2102L1734,2098M1719,2131L1723,2137M1741,2101L1734,2098M1741,2101L1750,2134M1782,2088L1784,2089M1782,2088L1741,2101M1778,2133L1751,2134M1775,2183L1746,2163M1715,2210L1718,2194L1725,2171M1613,2151L1626,2131L1642,2111L1646,2097M1684,2154L1669,2171M1684,2154L1683,2129L1686,2113M1635,2209L1634,2199L1640,2170M1610,2151L1613,2151M1694,2199L1692,2195M1671,2173L1669,2171M1673,2018L1697,2036M1697,2066L1697,2036M1697,2066L1684,2085M1715,2158L1684,2154M1745,1947L1742,1988M1766,1951L1773,1990M1773,1990L1742,1988M1789,1992L1774,1991M1705,1983L1741,1988M1738,2017L1759,2027M1738,2017L1721,2024M1720,2026L1733,2056M1733,2056L1740,2059M1740,2059L1769,2050M1759,2027L1770,2049M1774,1991L1759,2027M1741,1988L1738,2017M1699,1985L1711,2002L1721,2024M1697,2036L1720,2026M1697,2066L1733,2056M1734,2098L1740,2059M1782,2088L1769,2050M1819,2025L1790,2035L1770,2049" fill="none" stroke-width="3.6" stroke-linecap="round"/>
<path d="M921,1305L930,1288L946,1279L944,1270L948,1255L961,1235L956,1242L941,1252L930,1234L915,1248L914,1262L909,1275L912,1290Z" fill="#F1C27B" stroke-width="3.6" fill-rule="evenodd"/>
<path d="M931,1328L930,1352L935,1356L932,1370L935,1385L945,1404L928,1395L910,1405L925,1474L945,1475L948,1485L960,1498L972,1480L989,1465L988,1448L979,1438L980,1420L988,1395L1000,1378L998,1359L981,1328L976,1308L963,1304L962,1292L962,1305L935,1320Z" fill="#F1C27B" stroke-width="3.6" fill-rule="evenodd"/>
<path d="M902,1402L885,1349L863,1354L867,1355L865,1377L866,1410Z" fill="#F1C27B" stroke-width="3.6" fill-rule="evenodd"/>
<path d="M862,1468L880,1480L900,1490L915,1488L925,1478L919,1462L905,1455L900,1460L880,1462L868,1460Z" fill="#F1C27B" stroke-width="3.6" fill-rule="evenodd"/>
<path d="M1610,1135L1620,1140L1658,1120L1670,1108L1700,1090L1712,1085L1715,1070L1750,1058L1765,1055L1778,1070L1780,1052L1765,1040L1752,1035L1743,1027L1734,1008L1733,1009L1734,1013L1725,1015L1717,1010L1723,980L1720,992L1712,990L1700,992L1682,988L1684,979L1672,982L1670,992L1652,1002L1650,1018L1625,1040L1618,1060L1605,1085L1602,1098L1608,1115Z" fill="#B97C24" stroke-width="3.6" fill-rule="evenodd"/>
<path d="M1765,1040L1780,1052L1778,1070L1785,1085L1780,1090L1768,1110L1762,1124L1780,1128L1792,1120L1810,1115L1820,1130L1830,1140L1852,1170L1860,1188L1880,1200L1900,1185L1922,1175L1930,1165L1945,1180L1962,1172L1970,1158L1978,1165L1988,1170L2005,1158L2008,1132L2022,1126L2031,1132L2025,1128L2015,1115L2002,1090L1992,1084L2000,1080L2005,1068L2002,1052L1978,1030L1975,1012L1970,1000L1960,993L1967,1006L1935,1015L1918,992L1900,978L1890,982L1905,1000L1902,1002L1875,979L1868,982L1902,1038L1885,1052L1838,1010L1848,1002L1830,990L1820,995L1815,1010L1810,1035L1795,1040L1750,1010L1732,1012L1735,1013L1740,1025L1752,1035Z" fill="#E0A346" stroke-width="3.6" fill-rule="evenodd"/>
<path d="M1992,1084L2000,1080L2005,1068L2002,1052L1987,1039L1979,1055L1985,1072Z" fill="#E0A346" stroke-width="3.6" fill-rule="evenodd"/>
<path d="M1608,1140L1600,1180L1590,1215L1625,1235L1615,1215L1620,1205L1635,1195L1650,1198L1685,1222L1670,1108L1640,1128L1610,1138Z" fill="#F1C27B" stroke-width="3.6" fill-rule="evenodd"/>
<path d="M1672,1108L1682,1185L1700,1202L1710,1200L1730,1210L1748,1222L1760,1235L1775,1232L1805,1212L1795,1200L1780,1195L1792,1178L1780,1165L1788,1155L1780,1145L1760,1135L1752,1118L1730,1105L1712,1085L1700,1090Z" fill="#F1C27B" stroke-width="3.6" fill-rule="evenodd"/>
<path d="M1760,1135L1780,1145L1788,1155L1780,1165L1795,1175L1780,1190L1792,1198L1805,1200L1868,1192L1860,1188L1852,1170L1830,1140L1820,1130L1810,1115L1792,1120L1780,1128L1762,1124Z" fill="#F1C27B" stroke-width="3.6" fill-rule="evenodd"/>
<path d="M1765,1245L1775,1260L1795,1262L1820,1258L1850,1270L1852,1255L1868,1250L1870,1232L1880,1210L1870,1200L1850,1198L1810,1200L1805,1212L1775,1232L1748,1239Z" fill="#B97C24" stroke-width="3.6" fill-rule="evenodd"/>
<path d="M1988,1170L2005,1190L2000,1198L2008,1200L1980,1220L2002,1252L2020,1242L2028,1250L2022,1262L2030,1272L2015,1280L2022,1290L2055,1298L2068,1285L2085,1280L2102,1282L2112,1292L2130,1328L2140,1340L2155,1342L2168,1355L2175,1370L2195,1385L2215,1405L2230,1430L2238,1452L2250,1445L2260,1435L2265,1425L2292,1432L2302,1412L2300,1399L2272,1395L2260,1380L2265,1372L2235,1350L2225,1325L2230,1300L2215,1285L2205,1265L2212,1240L2208,1220L2215,1210L2213,1168L2205,1170L2190,1179L2180,1178L2168,1185L2152,1182L2152,1175L2140,1162L2128,1158L2115,1162L2112,1175L2090,1182L2072,1175L2068,1162L2078,1152L2072,1145L2045,1158L2042,1148L2035,1135L2025,1128L2013,1111L2019,1126L2008,1132L2005,1158Z" fill="#E0A346" stroke-width="3.6" fill-rule="evenodd"/>
<path d="M2052,1315L2055,1330L2072,1340L2075,1350L2088,1360L2095,1385L2100,1418L2122,1422L2142,1412L2145,1380L2162,1390L2168,1375L2175,1370L2168,1355L2155,1342L2140,1340L2130,1328L2112,1292L2102,1282L2085,1280L2068,1285L2055,1298Z" fill="#F1C27B" stroke-width="3.6" fill-rule="evenodd"/>
<path d="M2020,1295L2030,1320L2035,1352L2002,1372L2015,1380L2018,1410L2045,1408L2035,1432L2045,1448L2075,1455L2080,1445L2115,1439L2125,1445L2140,1472L2150,1465L2215,1432L2222,1448L2238,1445L2215,1405L2195,1385L2175,1370L2168,1375L2162,1390L2145,1380L2142,1412L2122,1422L2100,1418L2095,1385L2088,1360L2075,1350L2072,1340L2055,1330L2052,1315L2055,1298L2022,1290Z" fill="#B97C24" stroke-width="3.6" fill-rule="evenodd"/>
<path d="M1840,1315L1830,1328L1805,1335L1805,1355L1815,1365L1810,1390L1792,1415L1802,1435L1795,1450L1780,1470L1775,1502L1792,1520L1802,1542L1838,1560L1842,1555L1850,1505L1872,1495L1882,1468L1888,1438L1882,1405L1892,1395L1900,1365L1910,1350L1918,1328L1915,1315L1905,1318L1900,1328L1890,1308L1872,1315L1855,1310Z" fill="#B97C24" stroke-width="3.6" fill-rule="evenodd"/>
<path d="M1710,1432L1740,1468L1755,1460L1765,1470L1775,1488L1780,1470L1795,1450L1802,1435L1792,1415L1780,1418L1760,1390L1742,1372L1715,1385L1702,1418Z" fill="#F1C27B" stroke-width="3.6" fill-rule="evenodd"/>
<path d="M1508,1240L1525,1290L1540,1315L1552,1328L1568,1332L1555,1308L1565,1295L1575,1285L1590,1275L1610,1270L1628,1260L1625,1235L1590,1215L1575,1228L1570,1220L1545,1228L1540,1220L1522,1218Z" fill="#F1C27B" stroke-width="3.6" fill-rule="evenodd"/>
<path d="M1870,1232L1868,1250L1852,1255L1852,1270L1858,1295L1855,1310L1872,1315L1890,1308L1900,1328L1905,1318L1915,1315L1920,1328L1952,1332L1955,1320L1945,1302L1942,1290L1955,1292L1960,1305L1988,1328L2002,1342L2010,1338L2035,1352L2030,1320L2015,1280L2030,1272L2022,1262L2028,1250L2020,1242L2002,1252L1980,1220L2008,1200L2000,1198L2005,1190L1988,1170L1978,1165L1970,1158L1962,1172L1945,1180L1930,1165L1922,1175L1900,1185L1880,1210Z" fill="#744514" stroke-width="3.6" fill-rule="evenodd"/>
<path d="M1910,1350L1900,1365L1892,1395L1882,1405L1888,1438L1882,1468L1872,1495L1850,1505L1842,1555L1900,1538L1920,1525L1945,1520L1948,1530L1970,1515L1985,1502L2000,1498L2008,1510L2020,1520L2050,1528L2070,1525L2078,1500L2072,1488L2082,1462L2075,1455L2045,1448L2035,1432L2045,1408L2018,1410L2015,1380L2002,1372L2035,1352L2010,1338L2002,1342L1988,1328L1960,1305L1955,1292L1942,1290L1945,1302L1955,1320L1952,1332L1918,1328Z" fill="#744514" stroke-width="3.6" fill-rule="evenodd"/>
<path d="M1712,1085L1730,1105L1762,1124L1768,1110L1780,1090L1785,1085L1778,1070L1765,1055L1750,1058L1715,1070Z" fill="#FAE9D2" stroke-width="3.6" fill-rule="evenodd"/>
<path d="M2780,2305L2790,2318L2792,2350L2800,2368L2782,2402L2785,2422L2810,2424L2845,2415L2860,2400L2880,2370L2895,2338L2882,2330L2885,2310L2895,2308L2890,2295L2865,2280L2810,2270L2778,2278Z" fill="#F1C27B" stroke-width="3.6" fill-rule="evenodd"/>
<path d="M2882,2228L2895,2245L2888,2265L2865,2278L2870,2282L2890,2295L2895,2308L2885,2310L2882,2330L2895,2338L2880,2370L2860,2400L2845,2415L2810,2424L2785,2422L2782,2402L2760,2398L2770,2408L2772,2438L2802,2450L2812,2462L2815,2486L2838,2488L2865,2442L2912,2418L2915,2388L2930,2375L2955,2368L2980,2370L2982,2352L3012,2348L3002,2340L3015,2308L3025,2305L3028,2295L3018,2285L3020,2268L3012,2248L3028,2230L3030,2218L3020,2202L3010,2198L3000,2208L2980,2198L2970,2185L2950,2166Z" fill="#F1C27B" stroke-width="3.6" fill-rule="evenodd"/>
<path d="M3020,2268L3018,2285L3028,2295L3025,2305L3015,2308L3002,2340L3012,2348L3038,2352L3062,2352L3068,2338L3065,2322L3128,2328L3148,2325L3150,2338L3250,2360L3258,2332L3265,2332L3270,2365L3268,2372L3302,2380L3330,2382L3340,2370L3372,2362L3375,2380L3402,2372L3405,2398L3420,2382L3450,2398L3460,2415L3462,2429L3509,2432L3501,2459L3565,2271L3563,2275L3170,2271L3115,2262L3050,2240L3028,2230L3012,2248Z" fill="#F1C27B" stroke-width="3.6" fill-rule="evenodd"/>
<path d="M3160,2358L3135,2365L3130,2378L3115,2382L3115,2392L3100,2390L3088,2445L3045,2480L3060,2510L3088,2498L3100,2480L3145,2488L3200,2480L3248,2485L3265,2498L3262,2465L3268,2440L3285,2405L3302,2380L3268,2372L3270,2365L3265,2332L3258,2332L3250,2360L3150,2338Z" fill="#F1C27B" stroke-width="3.6" fill-rule="evenodd"/>
<path d="M3262,2465L3265,2498L3288,2485L3298,2495L3282,2512L3305,2548L3308,2565L3300,2600L3335,2590L3340,2562L3375,2565L3395,2545L3400,2520L3408,2500L3420,2488L3435,2492L3450,2480L3455,2450L3498,2466L3497,2468L3500,2467L3498,2465L3510,2431L3462,2429L3460,2415L3450,2398L3420,2382L3405,2398L3402,2372L3375,2380L3372,2362L3340,2370L3330,2382L3302,2380L3285,2405L3268,2440Z" fill="#E0A346" stroke-width="3.6" fill-rule="evenodd"/>
<path d="M2765,2518L2750,2538L2765,2555L2732,2570L2765,2590L2762,2612L2772,2630L2785,2615L2812,2612L2810,2590L2825,2585L2842,2570L2828,2515L2835,2486L2812,2488L2810,2480L2790,2472L2755,2495Z" fill="#E0A346" stroke-width="3.6" fill-rule="evenodd"/>
<path d="M3158,2509L3188,2508L3195,2540L3235,2542L3240,2558L3252,2552L3250,2575L3200,2600L3202,2620L3208,2600L3225,2602L3250,2648L3268,2648L3268,2630L3282,2630L3295,2618L3292,2605L3272,2612L3270,2600L3280,2585L3270,2570L3272,2550L3270,2525L3262,2510L3265,2498L3248,2484L3200,2480L3148,2486Z" fill="#F1C27B" stroke-width="3.6" fill-rule="evenodd"/>
<path d="M3285,2652L3316,2680L3310,2692L3296,2689L3400,2720L3430,2732L3452,2702L3488,2725L3519,2705L3524,2711L3518,2682L3540,2670L3560,2655L3570,2642L3565,2625L3572,2603L3559,2568L3498,2465L3501,2458L3497,2466L3455,2450L3450,2480L3435,2492L3420,2488L3408,2500L3400,2520L3395,2545L3375,2565L3340,2562L3335,2590L3300,2600L3308,2622L3305,2640L3290,2635Z" fill="#F1C27B" stroke-width="3.6" fill-rule="evenodd"/>
<path d="M3434,2631L3458,2635L3465,2582L3445,2590Z" fill="#FAE9D2" stroke-width="3.6" fill-rule="evenodd"/>
<path d="M2905,2645L2908,2668L2940,2661L2980,2656L3015,2654L3062,2657L3058,2650L3025,2647L3008,2642L2998,2622L3005,2612L2990,2605L3038,2585L3055,2565L3040,2550L3022,2538L3028,2525L3020,2515L3040,2480L3015,2465L3008,2480L2995,2462L2975,2468L2965,2445L2968,2422L2985,2412L3000,2422L3010,2412L3028,2415L3038,2352L3012,2348L2982,2352L2980,2372L2950,2368L2930,2382L2912,2392L2912,2425L2900,2455L2878,2452L2862,2472L2865,2490L2828,2515L2842,2570L2825,2585L2810,2590L2812,2645L2840,2648L2880,2648Z" fill="#B97C24" stroke-width="3.6" fill-rule="evenodd"/>
<path d="M2842,2570L2870,2576L2878,2565L2900,2568L2915,2565L2922,2550L2920,2540L2900,2532L2890,2520L2880,2499L2860,2505L2848,2510L2845,2522L2835,2542Z" fill="#FAE9D2" stroke-width="3.6" fill-rule="evenodd"/>
<path d="M1580,2755L1592,2762L1592,2785L1585,2795L1598,2795L1612,2800L1618,2790L1628,2778L1618,2775L1615,2750L1602,2752L1598,2745Z" fill="#F1C27B" stroke-width="3.6" fill-rule="evenodd"/>
<path d="M1605,2995L1607,3019L1660,3028L1690,3035L1808,3079L1833,3076L1842,3040L1845,3008L1828,2965L1765,2980L1735,2980L1722,2965L1708,2938L1705,2890L1672,2905L1630,2900Z" fill="#F1C27B" stroke-width="3.6" fill-rule="evenodd"/>
<path d="M1705,2938L1722,2965L1735,2980L1765,2980L1800,2972L1785,2938L1788,2915L1775,2920L1755,2910L1750,2895Z" fill="#F1C27B" stroke-width="3.6" fill-rule="evenodd"/>
<path d="M795,2600L822,2630L825,2655L820,2675L822,2690L802,2727L830,2742L887,2787L866,2770L885,2670L905,2610L890,2592L868,2582L848,2579L830,2580L818,2590L805,2578L798,2585Z" fill="#F1C27B" stroke-width="3.6" fill-rule="evenodd"/>
<path d="M1052,2662L1048,2648L1035,2640L1015,2648L998,2658L995,2675L982,2692L980,2710L988,2735L988,2755L980,2772L962,2795L948,2805L947,2825L942,2823L950,2832L990,2838L1025,2848L1030,2842L1070,2840L1100,2848L1130,2845L1160,2848L1227,2861L1226,2850L1236,2845L1215,2810L1208,2780L1210,2755L1222,2730L1215,2710L1190,2690L1175,2665L1180,2612L1130,2630L1090,2638L1078,2635L1070,2645L1065,2658Z" fill="#F1C27B" stroke-width="3.6" fill-rule="evenodd"/>
<path d="M1242,2628L1240,2650L1230,2655L1215,2645L1200,2660L1205,2675L1220,2685L1230,2695L1225,2710L1222,2730L1210,2755L1208,2780L1215,2810L1235,2845L1248,2835L1270,2825L1275,2812L1300,2800L1305,2818L1315,2805L1340,2780L1330,2750L1318,2695L1295,2685L1270,2670L1275,2650L1255,2645L1272,2620Z" fill="#F1C27B" stroke-width="3.6" fill-rule="evenodd"/>
<path d="M1318,2695L1330,2750L1340,2780L1315,2805L1355,2820L1372,2832L1385,2825L1400,2795L1415,2775L1425,2715L1385,2720L1335,2682L1320,2685Z" fill="#F1C27B" stroke-width="3.6" fill-rule="evenodd"/>
<path d="M1350,2881L1372,2832L1355,2820L1315,2805L1305,2818L1300,2800L1275,2812L1270,2825L1246,2835L1234,2845L1243,2855L1238,2863L1305,2872Z" fill="#F1C27B" stroke-width="3.6" fill-rule="evenodd"/>
<path d="M1380,2900L1451,2930L1475,2895L1490,2880L1528,2875L1528,2830L1500,2820L1495,2810L1450,2818L1418,2805L1400,2795L1385,2825L1372,2832L1350,2881Z" fill="#F1C27B" stroke-width="3.6" fill-rule="evenodd"/>
<path d="M860,2420L830,2455L808,2475L855,2492L880,2485L910,2470L895,2450L888,2425L902,2400L895,2379L848,2388Z" fill="#F1C27B" stroke-width="3.6" fill-rule="evenodd"/>
<path d="M855,2522L895,2528L922,2520L902,2490L910,2470L880,2485L855,2492Z" fill="#F1C27B" stroke-width="3.6" fill-rule="evenodd"/>
<path d="M888,2425L895,2450L910,2470L902,2490L922,2520L942,2555L970,2485L985,2468L1002,2465L1010,2470L1020,2460L1005,2450L988,2455L975,2440L955,2452L905,2450L918,2440L920,2405L902,2400Z" fill="#F1C27B" stroke-width="3.6" fill-rule="evenodd"/>
<path d="M780,2325L755,2345L750,2362L735,2375L740,2388L810,2382L820,2392L848,2385L855,2350L848,2322L815,2298L780,2290Z" fill="#F1C27B" stroke-width="3.6" fill-rule="evenodd"/>
<path d="M660,2522L658,2535L630,2558L585,2550L578,2570L572,2595L572,2620L555,2619L570,2621L630,2638L730,2684L801,2726L822,2690L820,2675L825,2655L822,2630L795,2600L798,2585L805,2578L818,2590L830,2580L802,2555L815,2545L798,2522L800,2510L790,2500L770,2512L750,2518L720,2512L700,2495L685,2472L662,2470L652,2458L648,2510Z" fill="#B97C24" stroke-width="3.6" fill-rule="evenodd"/>
<path d="M942,2555L922,2580L905,2610L885,2670L875,2725L864,2769L842,2752L910,2805L945,2825L948,2830L948,2805L962,2795L980,2772L988,2755L988,2735L980,2710L982,2692L995,2675L998,2658L1015,2648L1035,2640L1048,2648L1052,2662L1065,2658L1070,2645L1085,2625L1078,2620L1052,2615L1045,2622L982,2632L968,2622L952,2580L950,2565L960,2558L980,2565L1002,2580L1020,2550L1012,2540L1005,2510L1010,2480L1002,2465L985,2468L970,2485Z" fill="#744514" stroke-width="3.6" fill-rule="evenodd"/>
<path d="M755,1708L740,1730L730,1752L700,1758L700,1768L682,1772L685,1825L698,1848L712,1860L722,1882L740,1855L745,1830L762,1810L782,1792L788,1748L775,1720L768,1695Z" fill="#F1C27B" stroke-width="3.6" fill-rule="evenodd"/>
<path d="M712,1860L685,1840L665,1840L651,1863L667,1866L685,1875L679,1905L684,1959L672,1961L680,1960L710,1980L730,1990L748,2004L765,2012L780,2022L790,2038L810,2038L790,2020L805,2005L815,2010L828,2002L850,2020L875,2018L885,2000L875,1955L880,1940L882,1908L870,1915L860,1895L875,1875L860,1858L835,1818L862,1800L865,1790L848,1795L830,1780L810,1752L788,1748L782,1792L762,1810L745,1830L740,1855L722,1882ZM755,1962L754,1972L746,1966L750,1960Z" fill="#F1C27B" stroke-width="3.6" fill-rule="evenodd"/>
<path d="M648,1960L665,1962L680,1960L685,1963L686,1905L680,1875L651,1884L658,1892L650,1910L645,1938Z" fill="#F1C27B" stroke-width="3.6" fill-rule="evenodd"/>
<path d="M580,1848L598,1870L615,1860L630,1862L645,1875L665,1840L660,1838L640,1835L620,1830L615,1820L600,1835Z" fill="#F1C27B" stroke-width="3.6" fill-rule="evenodd"/>
<path d="M910,1700L915,1720L952,1752L965,1785L1005,1782L1025,1775L1042,1762L1035,1740L1008,1705L968,1690L945,1678L935,1652L918,1652Z" fill="#F1C27B" stroke-width="3.6" fill-rule="evenodd"/>
<path d="M958,1860L950,1875L930,1900L925,1915L935,1935L950,1925L970,1930L978,1910L995,1905L1005,1920L1020,1955L1045,1950L1055,1928L1072,1930L1095,1925L1068,1855L1088,1812L1072,1810L1058,1792L1048,1800L1025,1810L995,1820L955,1825Z" fill="#F1C27B" stroke-width="3.6" fill-rule="evenodd"/>
<path d="M918,2095L915,2108L885,2105L902,2128L945,2130L950,2125L988,2130L1035,2118L1052,2110L1050,2070L1030,2065L1015,2058L1005,2050L985,2078L972,2085L950,2088L928,2080Z" fill="#F1C27B" stroke-width="3.6" fill-rule="evenodd"/>
<path d="M1075,2025L1058,2050L1052,2070L1055,2105L1070,2092L1092,2088L1102,2082L1118,2105L1140,2105L1170,2100L1168,2080L1145,2065L1132,2040L1102,2005Z" fill="#F1C27B" stroke-width="3.6" fill-rule="evenodd"/>
<path d="M1065,2165L1078,2200L1102,2242L1115,2258L1150,2215L1172,2202L1225,2192L1242,2185L1240,2172L1222,2160L1185,2150L1142,2152L1130,2145L1120,2128L1118,2105L1102,2082L1092,2088L1070,2092L1055,2105L1052,2110Z" fill="#F1C27B" stroke-width="3.6" fill-rule="evenodd"/>
<path d="M1330,1645L1320,1680L1322,1705L1332,1730L1350,1750L1360,1765L1385,1770L1390,1800L1420,1810L1430,1805L1438,1765L1400,1745L1470,1730L1485,1718L1480,1710L1452,1728L1425,1715L1405,1690L1380,1688L1372,1668L1375,1650L1385,1635L1405,1630L1438,1648L1448,1610L1410,1612L1402,1618L1360,1602Z" fill="#F1C27B" stroke-width="3.6" fill-rule="evenodd"/>
<path d="M1305,1815L1300,1840L1298,1875L1315,1890L1330,1895L1340,1880L1370,1855L1372,1820L1390,1800L1385,1770L1360,1765L1325,1780Z" fill="#F1C27B" stroke-width="3.6" fill-rule="evenodd"/>
<path d="M1295,1905L1280,1918L1268,1935L1280,1952L1312,1968L1320,1925L1338,1915L1330,1895L1315,1890L1300,1880Z" fill="#F1C27B" stroke-width="3.6" fill-rule="evenodd"/>
<path d="M1362,2075L1350,2150L1375,2152L1400,2148L1442,2155L1452,2098L1450,2068L1422,2062L1395,2065Z" fill="#F1C27B" stroke-width="3.6" fill-rule="evenodd"/>
<path d="M713,2252L717,2243L780,2290L815,2298L848,2322L868,2315L872,2285L898,2272L910,2262L902,2250L895,2220L890,2190L880,2152L872,2138L862,2140L855,2168L810,2152L795,2145L749,2147L741,2125L748,2145L738,2190L725,2225L705,2240Z" fill="#E0A346" stroke-width="3.6" fill-rule="evenodd"/>
<path d="M902,1525L848,1550L845,1572L835,1580L828,1610L838,1628L832,1648L820,1668L822,1700L850,1695L868,1720L880,1730L890,1720L910,1680L908,1668L918,1652L935,1652L982,1598L980,1572L998,1555L988,1538L975,1545L962,1535L945,1508L918,1515L915,1502Z" fill="#B97C24" stroke-width="3.6" fill-rule="evenodd"/>
<path d="M910,1680L890,1720L880,1730L860,1730L830,1750L832,1760L848,1795L865,1790L862,1800L835,1818L860,1858L875,1875L918,1852L922,1865L950,1875L958,1860L965,1785L952,1752L915,1720L910,1700L918,1652L908,1668Z" fill="#B97C24" stroke-width="3.6" fill-rule="evenodd"/>
<path d="M885,2000L875,2018L850,2020L848,2030L795,2040L796,2038L792,2039L790,2037L760,2036L729,2081L770,2072L780,2078L801,2065L825,2075L832,2100L838,2125L862,2138L902,2128L885,2105L915,2108L918,2095L928,2075L910,2022L912,2010L905,1985L910,1970L928,1955L935,1935L925,1915L910,1910L900,1895L885,1900L882,1908L880,1940L875,1955Z" fill="#B97C24" stroke-width="3.6" fill-rule="evenodd"/>
<path d="M2075,1455L2082,1462L2072,1488L2078,1500L2070,1525L2050,1528L2020,1520L2008,1510L2000,1498L1992,1528L1995,1542L2025,1552L2050,1550L2088,1542L2120,1540L2125,1510L2118,1495L2130,1480L2135,1462L2125,1445L2115,1439L2080,1445Z" fill="#E0A346" stroke-width="3.6" fill-rule="evenodd"/>
<path d="M2120,1540L2130,1550L2132,1570L2110,1575L2135,1585L2148,1605L2168,1612L2198,1632L2218,1678L2250,1680L2268,1675L2265,1650L2250,1640L2270,1625L2295,1590L2287,1537L2292,1535L2307,1546L2298,1530L2295,1512L2285,1500L2268,1490L2275,1480L2265,1470L2280,1459L2267,1467L2250,1450L2238,1445L2222,1448L2215,1432L2150,1465L2140,1472L2135,1462L2130,1480L2118,1495L2125,1510Z" fill="#E0A346" stroke-width="3.6" fill-rule="evenodd"/>
<path d="M2165,1775L2200,1760L2218,1762L2230,1768L2242,1785L2258,1792L2280,1795L2268,1840L2312,1852L2330,1830L2340,1810L2345,1790L2330,1775L2320,1750L2308,1740L2290,1755L2258,1735L2268,1718L2250,1705L2230,1702L2200,1708L2185,1702L2172,1708L2165,1725L2142,1750Z" fill="#F1C27B" stroke-width="3.6" fill-rule="evenodd"/>
<path d="M2400,1860L2412,1875L2422,1870L2428,1850L2438,1835L2462,1810L2472,1795L2480,1775L2492,1765L2505,1735L2535,1720L2545,1708L2560,1705L2590,1710L2605,1700L2620,1695L2630,1680L2645,1678L2650,1662L2662,1670L2675,1662L2682,1650L2695,1640L2708,1635L2705,1622L2724,1600L2718,1592L2708,1588L2702,1578L2712,1575L2722,1562L2740,1560L2750,1550L2765,1552L2768,1524L2729,1486L2712,1492L2708,1486L2700,1500L2680,1508L2668,1525L2650,1535L2638,1538L2620,1548L2575,1578L2568,1588L2525,1612L2515,1625L2500,1632L2495,1640L2482,1637L2489,1640L2495,1652L2485,1670L2468,1675L2452,1690L2440,1685L2420,1690L2430,1710L2378,1762L2385,1780L2382,1798L2372,1808L2345,1790L2340,1810L2330,1830L2312,1852L2335,1870L2350,1855L2370,1850L2380,1840L2392,1845Z" fill="#F1C27B" stroke-width="3.6" fill-rule="evenodd"/>
<path d="M2695,1640L2682,1650L2675,1662L2662,1670L2650,1662L2645,1678L2630,1680L2620,1695L2605,1700L2590,1710L2560,1705L2545,1708L2535,1720L2505,1735L2492,1765L2480,1775L2472,1795L2462,1810L2438,1835L2428,1850L2422,1870L2412,1875L2400,1860L2392,1845L2380,1840L2370,1850L2350,1855L2335,1870L2350,1888L2312,1898L2325,1905L2332,1925L2322,1952L2335,1970L2348,2000L2365,2020L2392,2030L2412,2035L2425,2010L2452,1930L2475,1920L2472,1892L2502,1880L2505,1862L2498,1850L2500,1838L2515,1830L2522,1838L2518,1872L2550,1852L2572,1855L2590,1850L2605,1850L2622,1842L2608,1810L2610,1785L2635,1780L2650,1782L2662,1772L2680,1780L2712,1772L2715,1788L2742,1785L2742,1765L2755,1768L2768,1765L2768,1731L2788,1731L2805,1725L2825,1749L2805,1724L2718,1592L2708,1588L2717,1593L2714,1611L2706,1622L2705,1618L2703,1619L2708,1635Z" fill="#E0A346" stroke-width="3.6" fill-rule="evenodd"/>
<path d="M2268,1675L2250,1680L2218,1678L2230,1702L2250,1705L2268,1718L2258,1735L2290,1755L2308,1740L2320,1750L2330,1775L2345,1790L2372,1808L2382,1798L2385,1780L2378,1762L2430,1710L2420,1690L2440,1685L2452,1690L2468,1675L2485,1671L2496,1653L2496,1649L2495,1652L2492,1646L2496,1639L2470,1635L2445,1638L2440,1628L2435,1635L2412,1645L2402,1648L2390,1625L2385,1605L2365,1598L2355,1588L2350,1568L2332,1570L2330,1558L2305,1543L2298,1530L2295,1512L2292,1508L2290,1517L2270,1518L2282,1538L2290,1560L2295,1590L2270,1625L2250,1640L2265,1650Z" fill="#B97C24" stroke-width="3.6" fill-rule="evenodd"/>
<path d="M2360,1678L2350,1688L2355,1695L2370,1695L2375,1680L2388,1670L2382,1660L2370,1668L2365,1658L2358,1662Z" fill="#FAE9D2" stroke-width="3.6" fill-rule="evenodd"/>
<path d="M2335,1602L2345,1600L2342,1588L2332,1590Z" fill="#FAE9D2" stroke-width="3.6" fill-rule="evenodd"/>
<path d="M2480,1662L2472,1655L2460,1660L2465,1670L2470,1675Z" fill="#FAE9D2" stroke-width="3.6" fill-rule="evenodd"/>
<path d="M1842,2118L1870,2122L1900,2115L1908,2090L1890,2085L1875,2070L1838,2070Z" fill="#F1C27B" stroke-width="3.6" fill-rule="evenodd"/>
<path d="M1820,2145L1832,2150L1835,2110L1818,2110Z" fill="#F1C27B" stroke-width="3.6" fill-rule="evenodd"/>
<path d="M2548,2122L2538,2132L2550,2142L2568,2140L2575,2115L2558,2108Z" fill="#E0A346" stroke-width="3.6" fill-rule="evenodd"/>
<path d="M2522,1838L2515,1830L2500,1838L2498,1850L2505,1862L2502,1880L2472,1892L2475,1920L2452,1930L2425,2010L2412,2035L2410,2050L2430,2085L2445,2070L2472,2072L2500,2065L2520,2075L2530,2085L2550,2075L2570,2085L2585,2098L2600,2090L2615,2100L2635,2092L2652,2100L2685,2070L2718,2068L2728,2065L2736,2058L2720,2049L2711,2026L2718,2025L2720,2011L2728,1992L2698,1994L2689,1988L2691,1961L2734,1958L2735,1962L2745,1964L2746,1971L2782,1972L2790,1972L2791,1965L2796,1962L2797,1949L2789,1948L2788,1940L2776,1940L2772,1949L2755,1949L2754,1945L2724,1944L2721,1922L2748,1912L2765,1909L2769,1911L2770,1898L2776,1892L2778,1884L2771,1860L2772,1835L2778,1806L2752,1811L2742,1795L2742,1785L2715,1788L2712,1772L2680,1780L2662,1772L2650,1782L2635,1780L2610,1785L2608,1810L2622,1842L2605,1850L2590,1850L2572,1855L2550,1852L2518,1872Z" fill="#F1C27B" stroke-width="3.6" fill-rule="evenodd"/>
<path d="M2778,1806L2775,1816L2797,1814L2801,1782L2761,1780Z" fill="#F1C27B" stroke-width="3.6" fill-rule="evenodd"/>
<path d="M2745,1762L2742,1795L2752,1811L2778,1806L2761,1780L2764,1770L2758,1764L2750,1766Z" fill="#FAE9D2" stroke-width="3.6" fill-rule="evenodd"/>
<path d="M2710,1840L2706,1845L2704,1866L2712,1871L2729,1872L2741,1871L2758,1866L2761,1860L2771,1860L2772,1835L2784,1834L2784,1818L2762,1818L2758,1840L2723,1838L2725,1816L2709,1816Z" fill="#FAE9D2" stroke-width="3.6" fill-rule="evenodd"/>
<path d="M2754,1892L2750,1904L2740,1907L2707,1909L2708,1895L2685,1895L2686,1941L2700,1940L2699,1921L2721,1922L2748,1912L2765,1909L2769,1911L2770,1898L2776,1892L2778,1884L2771,1865L2761,1865L2761,1875L2741,1872Z" fill="#FAE9D2" stroke-width="3.6" fill-rule="evenodd"/>
<path d="M2775,1824L2784,1825L2784,1834L2772,1835L2771,1860L2772,1872L2776,1876L2778,1884L2776,1892L2770,1898L2769,1911L2765,1909L2748,1912L2721,1922L2724,1944L2754,1945L2755,1949L2772,1949L2776,1940L2788,1940L2789,1948L2797,1949L2796,1962L2791,1965L2788,1988L2784,1988L2782,1972L2746,1971L2745,1964L2735,1962L2734,1958L2691,1961L2689,1988L2698,1994L2728,1992L2720,2011L2718,2025L2711,2026L2720,2049L2736,2058L2728,2065L2744,2102L2780,2110L2800,2118L2830,2132L2840,2129L2865,2110L2892,2094L2902,2085L2915,2090L2920,2075L2919,2062L2922,2050L2931,2055L2934,2048L2942,2038L2934,2034L2928,2026L2912,2025L2909,2016L2915,2008L2925,2000L2922,1990L2924,1978L2928,1971L2936,1965L2931,1960L2928,1944L2922,1946L2911,1942L2915,1952L2909,1962L2901,1968L2900,1982L2899,1975L2886,1962L2880,1965L2876,1976L2869,1965L2860,1966L2862,1975L2852,1988L2849,1980L2844,1978L2847,1952L2845,1942L2835,1939L2831,1931L2824,1926L2820,1920L2818,1906L2805,1904L2810,1911L2795,1918L2788,1911L2786,1902L2788,1892L2785,1884L2780,1879L2781,1872L2788,1868L2791,1848L2792,1835L2789,1816L2775,1816Z" fill="#B97C24" stroke-width="3.6" fill-rule="evenodd"/>
<path d="M2896,1860L2898,1870L2904,1890L2904,1900L2907,1901L2910,1894L2922,1890L2938,1895L2942,1894L2938,1885L2931,1879L2924,1865L2907,1860L2908,1851L2902,1850L2899,1851Z" fill="#B97C24" stroke-width="3.6" fill-rule="evenodd"/>
<path d="M2347,2788L2331,2807L2317,2814L2300,2851L2258,2844L2223,2860L2209,2860L2197,2854L2194,2963L2189,2967L2250,2942L2280,2935L2320,2920L2350,2912L2360,2900L2425,2885L2450,2878L2500,2855L2534,2846L2519,2772L2493,2746L2486,2711L2467,2713L2456,2723L2439,2722L2422,2729L2401,2727L2389,2734L2382,2756L2361,2758Z" fill="#F1C27B" stroke-width="3.6" fill-rule="evenodd"/>
<path d="M2400,2890L2425,2885L2450,2878L2500,2855L2535,2845L2532,2800L2520,2774L2430,2822L2405,2828Z" fill="#FAE9D2" stroke-width="3.6" fill-rule="evenodd"/>
<path d="M2479,2701L2467,2713L2486,2711L2493,2746L2519,2772L2533,2847L2585,2825L2615,2810L2638,2802L2632,2782L2642,2768L2655,2755L2680,2748L2700,2738L2704,2724L2699,2725L2693,2662L2707,2661L2746,2629L2761,2619L2770,2615L2765,2607L2761,2589L2733,2568L2746,2558L2767,2560L2753,2537L2767,2516L2753,2495L2742,2520L2725,2528L2718,2537L2713,2551L2652,2495L2571,2539L2547,2542L2530,2554L2538,2574L2566,2607L2554,2634L2544,2694L2537,2718L2523,2701L2502,2690Z" fill="#E0A346" stroke-width="3.6" fill-rule="evenodd"/>
<path d="M2026,2371L2017,2398L2026,2411L2012,2417L2026,2434L2042,2464L2066,2497L2057,2523L2028,2521L2019,2526L2000,2523L1995,2537L2000,2546L2037,2563L2054,2547L2064,2575L2052,2607L2066,2617L2075,2631L2075,2650L2085,2661L2105,2666L2124,2697L2134,2701L2120,2709L2115,2730L2136,2744L2178,2760L2200,2793L2195,2798L2197,2854L2209,2860L2223,2860L2258,2844L2300,2851L2317,2814L2293,2763L2284,2722L2270,2723L2268,2748L2261,2751L2249,2743L2240,2749L2232,2739L2232,2723L2223,2716L2226,2702L2249,2711L2244,2727L2258,2723L2265,2713L2275,2704L2296,2695L2310,2685L2329,2678L2307,2666L2305,2657L2293,2655L2279,2650L2270,2640L2249,2638L2240,2647L2240,2655L2218,2668L2200,2666L2185,2659L2178,2647L2166,2640L2150,2634L2136,2643L2118,2645L2117,2621L2134,2593L2127,2560L2139,2540L2153,2539L2167,2520L2204,2540L2200,2549L2204,2563L2195,2575L2202,2582L2193,2603L2174,2610L2181,2624L2199,2614L2206,2596L2223,2579L2213,2560L2244,2539L2249,2540L2235,2568L2253,2593L2260,2607L2279,2607L2300,2521L2268,2509L2260,2502L2230,2528L2223,2518L2214,2509L2206,2495L2195,2490L2186,2481L2209,2474L2220,2459L2277,2488L2289,2485L2294,2474L2305,2481L2307,2486L2306,2474L2289,2460L2270,2457L2258,2462L2251,2457L2249,2445L2244,2441L2240,2452L2211,2446L2209,2462L2181,2464L2172,2443L2155,2431L2155,2415L2164,2380L2162,2338L2153,2333L2108,2375L2078,2385L2056,2344L2016,2364Z" fill="#E0A346" stroke-width="3.6" fill-rule="evenodd"/>
<path d="M2157,2809L2162,2823L2190,2816L2199,2795L2174,2784L2153,2791Z" fill="#E0A346" stroke-width="3.6" fill-rule="evenodd"/>
<path d="M2090,2180L2090,2199L2095,2225L2099,2257L2109,2267L2123,2286L2140,2319L2151,2332L2174,2335L2189,2321L2229,2316L2245,2304L2254,2288L2255,2262L2259,2253L2257,2232L2261,2211L2236,2194L2221,2176L2214,2161L2217,2149L2207,2140L2186,2145L2147,2140L2133,2135L2106,2156L2086,2164Z" fill="#F1C27B" stroke-width="3.6" fill-rule="evenodd"/>
<path d="M2059,2264L2074,2258L2099,2257L2095,2225L2090,2199L2074,2197L2059,2199Z" fill="#F1C27B" stroke-width="3.6" fill-rule="evenodd"/>
<path d="M2163,2333L2165,2386L2161,2403L2156,2413L2154,2433L2170,2445L2174,2443L2182,2450L2179,2457L2182,2464L2207,2462L2208,2429L2198,2413L2234,2401L2247,2368L2245,2363L2233,2347L2228,2337L2229,2316L2189,2321L2174,2335Z" fill="#F1C27B" stroke-width="3.6" fill-rule="evenodd"/>
<path d="M2457,2171L2466,2170L2471,2176L2468,2187L2433,2199L2430,2190L2416,2196L2423,2204L2400,2218L2402,2227L2369,2267L2372,2272L2379,2274L2376,2284L2365,2288L2365,2305L2344,2328L2348,2347L2355,2354L2367,2386L2379,2359L2419,2349L2421,2333L2416,2332L2433,2319L2440,2309L2433,2295L2419,2284L2457,2260L2466,2271L2498,2229L2499,2201L2506,2190L2492,2194L2480,2190L2492,2180L2499,2171L2480,2149L2457,2156L2449,2166Z" fill="#F1C27B" stroke-width="3.6" fill-rule="evenodd"/>
<path d="M1971,2163L1952,2206L1940,2192L1910,2199L1907,2257L1916,2286L1935,2284L1952,2276L1980,2249L1999,2248L2017,2267L2036,2283L2059,2264L2059,2199L2053,2176L2045,2157L2029,2173L1984,2154Z" fill="#E0A346" stroke-width="3.6" fill-rule="evenodd"/>
<path d="M2336,2173L2309,2210L2306,2222L2278,2236L2280,2246L2261,2253L2257,2258L2254,2288L2278,2312L2322,2347L2325,2363L2336,2382L2308,2405L2306,2410L2295,2420L2306,2473L2306,2483L2336,2499L2367,2507L2416,2429L2362,2405L2367,2386L2355,2354L2348,2347L2344,2328L2365,2305L2365,2288L2376,2284L2379,2274L2372,2272L2369,2267L2402,2227L2400,2218L2423,2204L2416,2196L2430,2190L2433,2199L2468,2187L2471,2176L2466,2170L2457,2171L2449,2166L2457,2156L2471,2150L2466,2142L2435,2128L2410,2152L2395,2138L2349,2142Z" fill="#E0A346" stroke-width="3.6" fill-rule="evenodd"/>
<path d="M1550,2378L1592,2399L1606,2410L1626,2415L1644,2408L1656,2410L1649,2399L1651,2373L1644,2366L1637,2352L1628,2342L1623,2338L1613,2343L1606,2368L1586,2356L1581,2343L1567,2352L1550,2338Z" fill="#F1C27B" stroke-width="3.6" fill-rule="evenodd"/>
<path d="M1693,2305L1700,2314L1698,2321L1701,2331L1696,2343L1714,2333L1740,2350L1769,2328L1780,2316L1762,2277L1707,2282L1696,2289Z" fill="#F1C27B" stroke-width="3.6" fill-rule="evenodd"/>
<path d="M1811,2202L1836,2242L1837,2268L1856,2309L1874,2314L1865,2289L1853,2270L1855,2248L1863,2249L1865,2242L1877,2234L1863,2225L1849,2213L1839,2188L1823,2171L1806,2183Z" fill="#F1C27B" stroke-width="3.6" fill-rule="evenodd"/>
<path d="M1672,2199L1703,2195L1700,2162L1670,2167Z" fill="#F1C27B" stroke-width="3.6" fill-rule="evenodd"/>
<path d="M1581,2502L1579,2530L1574,2540L1581,2551L1583,2563L1578,2566L1590,2579L1600,2580L1616,2563L1630,2561L1640,2568L1647,2577L1665,2561L1656,2551L1646,2516L1630,2509L1609,2495L1590,2490Z" fill="#F1C27B" stroke-width="3.6" fill-rule="evenodd"/>
<path d="M1447,2568L1438,2589L1452,2627L1453,2645L1475,2670L1480,2690L1487,2720L1475,2750L1480,2780L1495,2810L1500,2803L1530,2795L1565,2780L1580,2755L1598,2745L1615,2750L1590,2714L1595,2673L1606,2627L1613,2606L1609,2594L1599,2589L1590,2594L1583,2603L1567,2591L1559,2573L1522,2575L1505,2573L1494,2563L1484,2565L1475,2551L1456,2540L1445,2545Z" fill="#F1C27B" stroke-width="3.6" fill-rule="evenodd"/>
<path d="M1606,2627L1609,2638L1630,2662L1620,2730L1687,2710L1689,2673L1700,2652L1707,2633L1691,2633L1667,2643L1660,2634L1644,2629L1633,2619L1613,2606Z" fill="#F1C27B" stroke-width="3.6" fill-rule="evenodd"/>
<path d="M1867,2368L1843,2411L1839,2425L1804,2418L1806,2429L1801,2443L1806,2455L1811,2457L1811,2472L1823,2474L1825,2481L1818,2493L1816,2509L1806,2535L1809,2542L1822,2551L1834,2554L1841,2551L1849,2552L1860,2547L1877,2551L1879,2530L1888,2519L1912,2526L1933,2484L1923,2471L1903,2460Z" fill="#E0A346" stroke-width="3.6" fill-rule="evenodd"/>
<path d="M1740,2265L1762,2279L1775,2261L1762,2249L1743,2251Z" fill="#E0A346" stroke-width="3.6" fill-rule="evenodd"/>
<path d="M1724,2207L1708,2211L1707,2228L1717,2241L1729,2235L1743,2244L1754,2234L1759,2188L1740,2195L1738,2188L1726,2190Z" fill="#E0A346" stroke-width="3.6" fill-rule="evenodd"/>
<path d="M1668,2225L1675,2225L1684,2214L1696,2220L1708,2228L1707,2197L1668,2199Z" fill="#E0A346" stroke-width="3.6" fill-rule="evenodd"/>
<path d="M1614,2209L1632,2241L1637,2256L1623,2274L1649,2289L1663,2281L1677,2281L1677,2267L1640,2251L1644,2246L1660,2232L1661,2211L1644,2213L1623,2201Z" fill="#E0A346" stroke-width="3.6" fill-rule="evenodd"/>
<path d="M1599,2166L1609,2169L1626,2183L1630,2171L1640,2171L1670,2183L1668,2150L1604,2150Z" fill="#B97C24" stroke-width="3.6" fill-rule="evenodd"/>
<path d="M1607,2300L1609,2314L1602,2328L1604,2342L1613,2343L1623,2338L1626,2324L1632,2314L1642,2321L1640,2335L1649,2345L1658,2340L1668,2345L1658,2359L1651,2373L1649,2399L1672,2439L1675,2455L1703,2437L1719,2415L1714,2404L1726,2390L1721,2370L1731,2368L1743,2383L1747,2401L1754,2394L1762,2401L1769,2413L1783,2415L1776,2376L1778,2352L1769,2328L1740,2350L1714,2333L1696,2343L1701,2331L1698,2321L1689,2324L1680,2321L1682,2309L1691,2303L1696,2289L1691,2284L1663,2281L1649,2289L1611,2284Z" fill="#B97C24" stroke-width="3.6" fill-rule="evenodd"/>
<path d="M1623,2338L1628,2342L1637,2352L1644,2366L1651,2373L1658,2359L1668,2345L1658,2340L1649,2345L1640,2335L1642,2321L1632,2314L1626,2324Z" fill="#F1C27B" stroke-width="3.6" fill-rule="evenodd"/>
<path d="M1686,2458L1691,2464L1698,2478L1700,2493L1705,2498L1708,2509L1724,2532L1728,2542L1734,2540L1743,2528L1755,2500L1759,2505L1764,2525L1771,2537L1759,2559L1762,2573L1759,2589L1748,2613L1731,2619L1715,2610L1700,2598L1693,2589L1684,2591L1680,2596L1665,2561L1647,2577L1640,2568L1630,2561L1616,2563L1600,2580L1599,2589L1609,2594L1625,2613L1633,2619L1644,2629L1660,2634L1667,2643L1691,2633L1707,2633L1710,2629L1726,2626L1743,2640L1768,2617L1769,2610L1790,2606L1811,2599L1829,2634L1848,2629L1853,2624L1841,2610L1839,2594L1827,2589L1827,2580L1836,2582L1849,2552L1841,2551L1834,2554L1822,2551L1809,2542L1806,2535L1816,2509L1818,2493L1825,2481L1823,2474L1811,2472L1794,2476L1806,2467L1811,2457L1792,2453L1780,2457L1769,2465L1762,2460L1743,2464L1734,2451L1726,2453L1712,2446L1703,2444L1684,2453Z" fill="#744514" stroke-width="3.6" fill-rule="evenodd"/>
<path d="M1712,2488L1719,2495L1726,2486L1729,2471L1722,2464L1714,2465L1707,2476Z" fill="#FAE9D2" stroke-width="3.6" fill-rule="evenodd"/>
<path d="M1870,2568L1881,2580L1893,2573L1895,2552L1865,2554Z" fill="#744514" stroke-width="3.6" fill-rule="evenodd"/>
<path d="M1961,2599L1954,2613L1956,2660L1971,2669L1992,2669L2008,2666L2005,2645L1992,2624L1989,2599L1980,2577Z" fill="#FFFFFF" stroke-width="3.6" fill-rule="evenodd"/>
<path d="M1992,2624L2005,2645L2008,2666L2045,2678L2052,2692L2093,2697L2118,2704L2128,2697L2111,2669L2097,2659L2078,2648L2069,2627L2055,2613L2038,2610L2027,2612L2006,2606L1989,2599Z" fill="#FFFFFF" stroke-width="3.6" fill-rule="evenodd"/>
<path d="M1053,2127L1074,2203L1097,2240L1100,2256L1111,2263L1130,2242L1139,2224L1158,2207L1234,2193L1240,2186L1229,2160L1214,2155L1179,2149L1144,2151L1140,2144L1130,2146L1118,2114L1109,2081L1100,2080L1093,2090L1074,2092L1053,2106Z" fill="#F1C27B" stroke-width="3.6" fill-rule="evenodd"/>
<path d="M1130,2242L1111,2263L1109,2294L1118,2297L1116,2287L1130,2282L1132,2268L1149,2264L1142,2278L1153,2290L1160,2287L1165,2299L1179,2303L1184,2308L1193,2301L1200,2289L1189,2290L1186,2280L1212,2276L1214,2266L1186,2275L1175,2247L1165,2245L1144,2231L1139,2224Z" fill="#F1C27B" stroke-width="3.6" fill-rule="evenodd"/>
<path d="M1217,2228L1210,2245L1214,2266L1212,2276L1186,2280L1189,2290L1200,2289L1194,2301L1207,2296L1273,2292L1292,2310L1290,2317L1302,2320L1306,2315L1327,2327L1341,2327L1353,2308L1356,2290L1344,2273L1346,2256L1356,2245L1367,2238L1336,2243L1318,2240L1301,2221L1259,2216L1248,2221L1229,2217Z" fill="#F1C27B" stroke-width="3.6" fill-rule="evenodd"/>
<path d="M1290,2170L1262,2193L1248,2196L1229,2217L1248,2221L1259,2216L1301,2221L1304,2226L1323,2200L1327,2188L1316,2172L1304,2161L1297,2160Z" fill="#F1C27B" stroke-width="3.6" fill-rule="evenodd"/>
<path d="M1353,2116L1348,2158L1360,2161L1395,2158L1444,2148L1437,2116L1440,2102L1449,2087L1452,2071L1402,2060L1362,2071Z" fill="#F1C27B" stroke-width="3.6" fill-rule="evenodd"/>
<path d="M1301,2155L1304,2161L1316,2170L1334,2161L1344,2165L1348,2158L1353,2118L1336,2128L1301,2134Z" fill="#F1C27B" stroke-width="3.6" fill-rule="evenodd"/>
<path d="M900,2381L907,2395L916,2404L917,2419L909,2426L905,2451L928,2449L945,2451L973,2447L975,2437L989,2456L1003,2451L1015,2461L1034,2456L1064,2468L1072,2486L1095,2465L1109,2458L1118,2449L1120,2437L1104,2435L1109,2426L1116,2419L1106,2402L1100,2379L1088,2371L1064,2369L1062,2357L1006,2346L992,2350L947,2344L937,2365L910,2364Z" fill="#F1C27B" stroke-width="3.6" fill-rule="evenodd"/>
<path d="M910,2128L944,2128L947,2125L987,2128L1046,2116L1053,2106L1050,2064L1039,2071L1020,2064L1015,2055L970,2085L966,2080L940,2085L921,2102L909,2116Z" fill="#F1C27B" stroke-width="3.6" fill-rule="evenodd"/>
<path d="M1053,2106L1074,2092L1093,2090L1100,2080L1109,2081L1118,2114L1140,2106L1144,2094L1172,2099L1160,2073L1140,2071L1133,2050L1055,2050L1050,2064Z" fill="#F1C27B" stroke-width="3.6" fill-rule="evenodd"/>
<path d="M1275,2541L1278,2552L1297,2562L1294,2573L1301,2583L1329,2576L1318,2610L1398,2610L1398,2552L1381,2545L1363,2548L1353,2538L1343,2533L1318,2536L1301,2529L1283,2534Z" fill="#F1C27B" stroke-width="3.6" fill-rule="evenodd"/>
<path d="M1130,2282L1116,2287L1118,2297L1107,2310L1095,2313L1078,2322L1062,2357L1064,2369L1088,2371L1100,2379L1113,2376L1151,2378L1170,2372L1177,2360L1189,2365L1210,2364L1212,2365L1200,2346L1189,2320L1179,2303L1165,2299L1160,2287L1153,2290L1142,2278L1149,2264L1132,2268Z" fill="#E0A346" stroke-width="3.6" fill-rule="evenodd"/>
<path d="M1106,2402L1116,2419L1109,2426L1104,2435L1120,2437L1118,2449L1109,2458L1095,2465L1072,2486L1074,2499L1072,2513L1081,2524L1113,2543L1160,2543L1187,2557L1198,2531L1226,2510L1231,2487L1226,2468L1228,2447L1215,2419L1219,2405L1231,2393L1210,2364L1189,2365L1177,2360L1170,2372L1151,2378L1113,2376L1100,2379Z" fill="#B97C24" stroke-width="3.6" fill-rule="evenodd"/>
<path d="M1316,2172L1327,2188L1323,2200L1304,2226L1318,2240L1336,2243L1367,2238L1374,2228L1367,2210L1379,2186L1382,2167L1355,2161L1344,2165L1334,2161L1316,2170L1304,2160Z" fill="#B97C24" stroke-width="3.6" fill-rule="evenodd"/>
<path d="M1374,2228L1367,2238L1356,2245L1346,2256L1344,2273L1356,2290L1360,2315L1383,2355L1395,2391L1403,2398L1416,2432L1412,2447L1386,2459L1369,2493L1356,2499L1348,2517L1343,2533L1353,2538L1363,2548L1381,2545L1398,2552L1412,2541L1423,2538L1437,2545L1447,2538L1478,2552L1506,2571L1524,2569L1555,2576L1569,2587L1583,2604L1590,2595L1599,2590L1578,2567L1583,2564L1581,2552L1574,2541L1579,2531L1581,2503L1590,2491L1592,2480L1600,2468L1613,2470L1623,2463L1637,2458L1640,2449L1632,2454L1614,2451L1604,2444L1599,2451L1597,2466L1555,2458L1545,2459L1522,2437L1517,2423L1508,2425L1506,2416L1520,2400L1531,2379L1545,2381L1550,2378L1548,2332L1536,2268L1513,2268L1511,2280L1499,2301L1508,2364L1513,2381L1503,2402L1492,2405L1471,2426L1454,2412L1447,2395L1457,2379L1444,2371L1438,2353L1442,2315L1442,2283L1433,2273L1433,2261L1445,2245L1461,2233L1478,2231L1484,2221L1471,2200L1466,2184L1454,2181L1440,2189L1426,2195L1414,2188L1419,2179L1412,2168L1402,2184L1379,2186L1367,2210Z" fill="#B97C24" stroke-width="3.6" fill-rule="evenodd"/>
<path d="M933,2219L924,2222L942,2240L963,2235L973,2224L984,2195L975,2196L957,2207L954,2193L931,2198Z" fill="#B97C24" stroke-width="3.6" fill-rule="evenodd"/>
<path d="M1525,2123L1555,2141L1553,2125L1562,2106L1527,2109Z" fill="#B97C24" stroke-width="3.6" fill-rule="evenodd"/>
<path d="M900,2111L907,2113L919,2107L917,2095L926,2085L923,2050L900,2050Z" fill="#B97C24" stroke-width="3.6" fill-rule="evenodd"/>
<path d="M1453,2008L1439,1996L1413,2011L1389,2037L1396,2060L1448,2065L1453,2081L1464,2074L1497,2065L1523,2074L1533,2067L1551,2062L1540,2004L1549,1990L1546,1976L1525,1940L1516,1940L1481,1966Z" fill="#F1C27B" stroke-width="3.6" fill-rule="evenodd"/>
<path d="M1486,2029L1481,2041L1509,2046L1533,2067L1551,2062L1540,2004L1502,2013L1499,2001L1483,2013Z" fill="#F1C27B" stroke-width="3.6" fill-rule="evenodd"/>
<path d="M1600,2032L1612,2057L1605,2067L1607,2093L1621,2098L1659,2098L1666,2112L1682,2112L1706,2125L1718,2137L1725,2119L1732,2116L1690,2098L1687,2084L1669,2081L1664,2060L1668,2050L1645,2029L1629,2025L1615,2017Z" fill="#F1C27B" stroke-width="3.6" fill-rule="evenodd"/>
<path d="M1619,2043L1605,2067L1607,2093L1621,2098L1659,2098L1662,2084L1636,2071L1629,2053Z" fill="#F1C27B" stroke-width="3.6" fill-rule="evenodd"/>
<path d="M1631,2220L1643,2236L1662,2231L1664,2210L1643,2213L1624,2201L1615,2206Z" fill="#F1C27B" stroke-width="3.6" fill-rule="evenodd"/>
</g>
<text transform="translate(1942.5 1273.5) scale(1 1.055)" font-size="41.7" text-anchor="middle" fill="#fff">2</text>
<text transform="translate(1962.5 1456) scale(1 1.055)" font-size="41.7" text-anchor="middle" fill="#fff">4</text>
<text transform="translate(950 2678.5) scale(1 1.055)" font-size="41.7" text-anchor="middle" fill="#fff">3</text>
<text transform="translate(2942.5 2541) scale(1 1.055)" font-size="41.7" text-anchor="middle" fill="#000">5</text>
<text transform="translate(1746.7 2566.7) scale(1 1.055)" font-size="41.7" text-anchor="middle" fill="#fff">1</text>
<g id="colorbar">
<rect x="4075.3" y="981.0" width="89.7" height="378.5" fill="#744514"/>
<rect x="4075.3" y="1358.9" width="89.7" height="378.5" fill="#B97C24"/>
<rect x="4075.3" y="1736.8" width="89.7" height="378.5" fill="#E0A346"/>
<rect x="4075.3" y="2114.7" width="89.7" height="378.5" fill="#F1C27B"/>
<rect x="4075.3" y="2492.6" width="89.7" height="378.5" fill="#FAE9D2"/>
<rect x="4075.3" y="981.0" width="89.7" height="1889.5" fill="none" stroke="#000" stroke-width="5.6"/>
<line x1="4165.0" y1="981.0" x2="4189.3" y2="981.0" stroke="#000" stroke-width="5.8"/>
<text transform="translate(4213.6 1003.4) scale(1 1.055)" font-size="55.56" text-anchor="start" fill="#000">7,231</text>
<line x1="4165.0" y1="1358.9" x2="4189.3" y2="1358.9" stroke="#000" stroke-width="5.8"/>
<text transform="translate(4213.6 1381.3) scale(1 1.055)" font-size="55.56" text-anchor="start" fill="#000">5,785</text>
<line x1="4165.0" y1="1736.8" x2="4189.3" y2="1736.8" stroke="#000" stroke-width="5.8"/>
<text transform="translate(4213.6 1759.2) scale(1 1.055)" font-size="55.56" text-anchor="start" fill="#000">4,339</text>
<line x1="4165.0" y1="2114.7" x2="4189.3" y2="2114.7" stroke="#000" stroke-width="5.8"/>
<text transform="translate(4213.6 2137.1) scale(1 1.055)" font-size="55.56" text-anchor="start" fill="#000">2,893</text>
<line x1="4165.0" y1="2492.6" x2="4189.3" y2="2492.6" stroke="#000" stroke-width="5.8"/>
<text transform="translate(4213.6 2515.0) scale(1 1.055)" font-size="55.56" text-anchor="start" fill="#000">1,447</text>
<line x1="4165.0" y1="2870.5" x2="4189.3" y2="2870.5" stroke="#000" stroke-width="5.8"/>
<text transform="translate(4213.6 2892.9) scale(1 1.055)" font-size="55.56" text-anchor="start" fill="#000">0</text>
</g>
<text transform="translate(4040.3 1930) rotate(-90) scale(1.05 1.02)" font-size="55.56" text-anchor="middle">Hectáreas</text>
<text transform="translate(2500 268.5) scale(1 1.055)" font-size="111.27" text-anchor="middle" fill="#000">Superficie cosechada de maíz grano en Oaxaca por municipio (2024)</text>
<text transform="translate(2500 386) scale(1 1.055)" font-size="69.7" text-anchor="middle" fill="#000" xml:space="preserve">Fuente: SADER-DGSIAP     Elaboró: Olmo Axayacatl</text>
<text transform="translate(4750.5 2974.2) scale(1 1.055)" font-size="55.56" text-anchor="end" fill="#000">Líderes:</text>
<text transform="translate(4750.5 3041.7) scale(1 1.055)" font-size="55.56" text-anchor="end" fill="#000">1. Miahuatlán de Porfirio Díaz (7,231 ha)</text>
<text transform="translate(4750.5 3109.2) scale(1 1.055)" font-size="55.56" text-anchor="end" fill="#000">2. San Lucas Ojitlán (6,618 ha)</text>
<text transform="translate(4750.5 3176.7) scale(1 1.055)" font-size="55.56" text-anchor="end" fill="#000">3. Santiago Jamiltepec (5,990 ha)</text>
<text transform="translate(4750.5 3244.2) scale(1 1.055)" font-size="55.56" text-anchor="end" fill="#000">4. San Juan Bautista Valle Nacional (5,833 ha)</text>
<text transform="translate(4750.5 3311.7) scale(1 1.055)" font-size="55.56" text-anchor="end" fill="#000">5. Heroica Ciudad de Juchitán de Zaragoza (5,614 ha)</text>
</svg></body></html>
